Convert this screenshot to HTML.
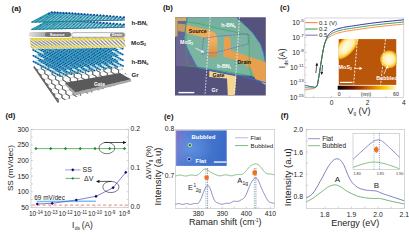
<!DOCTYPE html>
<html><head><meta charset="utf-8"><style>
html,body{margin:0;padding:0;background:#fff;width:409px;height:237px;overflow:hidden}
svg{display:block;font-family:"Liberation Sans",sans-serif}
</style></head><body>
<svg width="409" height="237" viewBox="0 0 409 237" font-family="Liberation Sans, sans-serif"><text x="11.6" y="11.4" font-size="7.8" text-anchor="start" font-weight="bold" fill="#111" >(a)</text>
<text x="163.0" y="10.1" font-size="7.8" text-anchor="start" font-weight="bold" fill="#111" >(b)</text>
<text x="280.0" y="10.1" font-size="7.8" text-anchor="start" font-weight="bold" fill="#111" >(c)</text>
<text x="5.5" y="118.3" font-size="7.8" text-anchor="start" font-weight="bold" fill="#111" >(d)</text>
<text x="164.0" y="118.8" font-size="7.8" text-anchor="start" font-weight="bold" fill="#111" >(e)</text>
<text x="280.7" y="118.0" font-size="7.8" text-anchor="start" font-weight="bold" fill="#111" >(f)</text>
<defs><clipPath id="grc"><rect x="0" y="0" width="19.5" height="12.12435565298214"/></clipPath></defs>
<g transform="matrix(3.7436,-1.0769,1.9795,2.8043,34,68)"><g clip-path="url(#grc)"><path d="M0.00,0.00 L-1.00,0.00 M-1.00,-1.73 L0.00,-1.73 M0.00,1.73 L-1.00,1.73 M-1.00,0.00 L0.00,0.00 M0.00,3.46 L-1.00,3.46 M-1.00,1.73 L0.00,1.73 M0.00,5.20 L-1.00,5.20 M-1.00,3.46 L0.00,3.46 M0.00,6.93 L-1.00,6.93 M-1.00,5.20 L0.00,5.20 M0.00,8.66 L-1.00,8.66 M-1.00,6.93 L0.00,6.93 M0.00,10.39 L-1.00,10.39 M-1.00,8.66 L0.00,8.66 M0.00,12.12 L-1.00,12.12 M-1.00,10.39 L0.00,10.39 M0.00,13.86 L-1.00,13.86 M-1.00,12.12 L0.00,12.12 M0.00,15.59 L-1.00,15.59 M-1.00,13.86 L0.00,13.86 M1.50,-0.87 L0.50,-0.87 M0.50,-2.60 L1.50,-2.60 M1.50,0.87 L0.50,0.87 M0.50,-0.87 L1.50,-0.87 M1.50,2.60 L0.50,2.60 M0.50,0.87 L1.50,0.87 M1.50,4.33 L0.50,4.33 M0.50,2.60 L1.50,2.60 M1.50,6.06 L0.50,6.06 M0.50,4.33 L1.50,4.33 M1.50,7.79 L0.50,7.79 M0.50,6.06 L1.50,6.06 M1.50,9.53 L0.50,9.53 M0.50,7.79 L1.50,7.79 M1.50,11.26 L0.50,11.26 M0.50,9.53 L1.50,9.53 M1.50,12.99 L0.50,12.99 M0.50,11.26 L1.50,11.26 M1.50,14.72 L0.50,14.72 M0.50,12.99 L1.50,12.99 M3.00,0.00 L2.00,0.00 M2.00,-1.73 L3.00,-1.73 M3.00,1.73 L2.00,1.73 M2.00,0.00 L3.00,0.00 M3.00,3.46 L2.00,3.46 M2.00,1.73 L3.00,1.73 M3.00,5.20 L2.00,5.20 M2.00,3.46 L3.00,3.46 M3.00,6.93 L2.00,6.93 M2.00,5.20 L3.00,5.20 M3.00,8.66 L2.00,8.66 M2.00,6.93 L3.00,6.93 M3.00,10.39 L2.00,10.39 M2.00,8.66 L3.00,8.66 M3.00,12.12 L2.00,12.12 M2.00,10.39 L3.00,10.39 M3.00,13.86 L2.00,13.86 M2.00,12.12 L3.00,12.12 M3.00,15.59 L2.00,15.59 M2.00,13.86 L3.00,13.86 M4.50,-0.87 L3.50,-0.87 M3.50,-2.60 L4.50,-2.60 M4.50,0.87 L3.50,0.87 M3.50,-0.87 L4.50,-0.87 M4.50,2.60 L3.50,2.60 M3.50,0.87 L4.50,0.87 M4.50,4.33 L3.50,4.33 M3.50,2.60 L4.50,2.60 M4.50,6.06 L3.50,6.06 M3.50,4.33 L4.50,4.33 M4.50,7.79 L3.50,7.79 M3.50,6.06 L4.50,6.06 M4.50,9.53 L3.50,9.53 M3.50,7.79 L4.50,7.79 M4.50,11.26 L3.50,11.26 M3.50,9.53 L4.50,9.53 M4.50,12.99 L3.50,12.99 M3.50,11.26 L4.50,11.26 M4.50,14.72 L3.50,14.72 M3.50,12.99 L4.50,12.99 M6.00,0.00 L5.00,0.00 M5.00,-1.73 L6.00,-1.73 M6.00,1.73 L5.00,1.73 M5.00,0.00 L6.00,0.00 M6.00,3.46 L5.00,3.46 M5.00,1.73 L6.00,1.73 M6.00,5.20 L5.00,5.20 M5.00,3.46 L6.00,3.46 M6.00,6.93 L5.00,6.93 M5.00,5.20 L6.00,5.20 M6.00,8.66 L5.00,8.66 M5.00,6.93 L6.00,6.93 M6.00,10.39 L5.00,10.39 M5.00,8.66 L6.00,8.66 M6.00,12.12 L5.00,12.12 M5.00,10.39 L6.00,10.39 M6.00,13.86 L5.00,13.86 M5.00,12.12 L6.00,12.12 M6.00,15.59 L5.00,15.59 M5.00,13.86 L6.00,13.86 M7.50,-0.87 L6.50,-0.87 M6.50,-2.60 L7.50,-2.60 M7.50,0.87 L6.50,0.87 M6.50,-0.87 L7.50,-0.87 M7.50,2.60 L6.50,2.60 M6.50,0.87 L7.50,0.87 M7.50,4.33 L6.50,4.33 M6.50,2.60 L7.50,2.60 M7.50,6.06 L6.50,6.06 M6.50,4.33 L7.50,4.33 M7.50,7.79 L6.50,7.79 M6.50,6.06 L7.50,6.06 M7.50,9.53 L6.50,9.53 M6.50,7.79 L7.50,7.79 M7.50,11.26 L6.50,11.26 M6.50,9.53 L7.50,9.53 M7.50,12.99 L6.50,12.99 M6.50,11.26 L7.50,11.26 M7.50,14.72 L6.50,14.72 M6.50,12.99 L7.50,12.99 M9.00,0.00 L8.00,0.00 M8.00,-1.73 L9.00,-1.73 M9.00,1.73 L8.00,1.73 M8.00,0.00 L9.00,0.00 M9.00,3.46 L8.00,3.46 M8.00,1.73 L9.00,1.73 M9.00,5.20 L8.00,5.20 M8.00,3.46 L9.00,3.46 M9.00,6.93 L8.00,6.93 M8.00,5.20 L9.00,5.20 M9.00,8.66 L8.00,8.66 M8.00,6.93 L9.00,6.93 M9.00,10.39 L8.00,10.39 M8.00,8.66 L9.00,8.66 M9.00,12.12 L8.00,12.12 M8.00,10.39 L9.00,10.39 M9.00,13.86 L8.00,13.86 M8.00,12.12 L9.00,12.12 M9.00,15.59 L8.00,15.59 M8.00,13.86 L9.00,13.86 M10.50,-0.87 L9.50,-0.87 M9.50,-2.60 L10.50,-2.60 M10.50,0.87 L9.50,0.87 M9.50,-0.87 L10.50,-0.87 M10.50,2.60 L9.50,2.60 M9.50,0.87 L10.50,0.87 M10.50,4.33 L9.50,4.33 M9.50,2.60 L10.50,2.60 M10.50,6.06 L9.50,6.06 M9.50,4.33 L10.50,4.33 M10.50,7.79 L9.50,7.79 M9.50,6.06 L10.50,6.06 M10.50,9.53 L9.50,9.53 M9.50,7.79 L10.50,7.79 M10.50,11.26 L9.50,11.26 M9.50,9.53 L10.50,9.53 M10.50,12.99 L9.50,12.99 M9.50,11.26 L10.50,11.26 M10.50,14.72 L9.50,14.72 M9.50,12.99 L10.50,12.99 M12.00,0.00 L11.00,0.00 M11.00,-1.73 L12.00,-1.73 M12.00,1.73 L11.00,1.73 M11.00,0.00 L12.00,0.00 M12.00,3.46 L11.00,3.46 M11.00,1.73 L12.00,1.73 M12.00,5.20 L11.00,5.20 M11.00,3.46 L12.00,3.46 M12.00,6.93 L11.00,6.93 M11.00,5.20 L12.00,5.20 M12.00,8.66 L11.00,8.66 M11.00,6.93 L12.00,6.93 M12.00,10.39 L11.00,10.39 M11.00,8.66 L12.00,8.66 M12.00,12.12 L11.00,12.12 M11.00,10.39 L12.00,10.39 M12.00,13.86 L11.00,13.86 M11.00,12.12 L12.00,12.12 M12.00,15.59 L11.00,15.59 M11.00,13.86 L12.00,13.86 M13.50,-0.87 L12.50,-0.87 M12.50,-2.60 L13.50,-2.60 M13.50,0.87 L12.50,0.87 M12.50,-0.87 L13.50,-0.87 M13.50,2.60 L12.50,2.60 M12.50,0.87 L13.50,0.87 M13.50,4.33 L12.50,4.33 M12.50,2.60 L13.50,2.60 M13.50,6.06 L12.50,6.06 M12.50,4.33 L13.50,4.33 M13.50,7.79 L12.50,7.79 M12.50,6.06 L13.50,6.06 M13.50,9.53 L12.50,9.53 M12.50,7.79 L13.50,7.79 M13.50,11.26 L12.50,11.26 M12.50,9.53 L13.50,9.53 M13.50,12.99 L12.50,12.99 M12.50,11.26 L13.50,11.26 M13.50,14.72 L12.50,14.72 M12.50,12.99 L13.50,12.99 M15.00,0.00 L14.00,0.00 M14.00,-1.73 L15.00,-1.73 M15.00,1.73 L14.00,1.73 M14.00,0.00 L15.00,0.00 M15.00,3.46 L14.00,3.46 M14.00,1.73 L15.00,1.73 M15.00,5.20 L14.00,5.20 M14.00,3.46 L15.00,3.46 M15.00,6.93 L14.00,6.93 M14.00,5.20 L15.00,5.20 M15.00,8.66 L14.00,8.66 M14.00,6.93 L15.00,6.93 M15.00,10.39 L14.00,10.39 M14.00,8.66 L15.00,8.66 M15.00,12.12 L14.00,12.12 M14.00,10.39 L15.00,10.39 M15.00,13.86 L14.00,13.86 M14.00,12.12 L15.00,12.12 M15.00,15.59 L14.00,15.59 M14.00,13.86 L15.00,13.86 M16.50,-0.87 L15.50,-0.87 M15.50,-2.60 L16.50,-2.60 M16.50,0.87 L15.50,0.87 M15.50,-0.87 L16.50,-0.87 M16.50,2.60 L15.50,2.60 M15.50,0.87 L16.50,0.87 M16.50,4.33 L15.50,4.33 M15.50,2.60 L16.50,2.60 M16.50,6.06 L15.50,6.06 M15.50,4.33 L16.50,4.33 M16.50,7.79 L15.50,7.79 M15.50,6.06 L16.50,6.06 M16.50,9.53 L15.50,9.53 M15.50,7.79 L16.50,7.79 M16.50,11.26 L15.50,11.26 M15.50,9.53 L16.50,9.53 M16.50,12.99 L15.50,12.99 M15.50,11.26 L16.50,11.26 M16.50,14.72 L15.50,14.72 M15.50,12.99 L16.50,12.99 M18.00,0.00 L17.00,0.00 M17.00,-1.73 L18.00,-1.73 M18.00,1.73 L17.00,1.73 M17.00,0.00 L18.00,0.00 M18.00,3.46 L17.00,3.46 M17.00,1.73 L18.00,1.73 M18.00,5.20 L17.00,5.20 M17.00,3.46 L18.00,3.46 M18.00,6.93 L17.00,6.93 M17.00,5.20 L18.00,5.20 M18.00,8.66 L17.00,8.66 M17.00,6.93 L18.00,6.93 M18.00,10.39 L17.00,10.39 M17.00,8.66 L18.00,8.66 M18.00,12.12 L17.00,12.12 M17.00,10.39 L18.00,10.39 M18.00,13.86 L17.00,13.86 M17.00,12.12 L18.00,12.12 M18.00,15.59 L17.00,15.59 M17.00,13.86 L18.00,13.86 M19.50,-0.87 L18.50,-0.87 M18.50,-2.60 L19.50,-2.60 M19.50,0.87 L18.50,0.87 M18.50,-0.87 L19.50,-0.87 M19.50,2.60 L18.50,2.60 M18.50,0.87 L19.50,0.87 M19.50,4.33 L18.50,4.33 M18.50,2.60 L19.50,2.60 M19.50,6.06 L18.50,6.06 M18.50,4.33 L19.50,4.33 M19.50,7.79 L18.50,7.79 M18.50,6.06 L19.50,6.06 M19.50,9.53 L18.50,9.53 M18.50,7.79 L19.50,7.79 M19.50,11.26 L18.50,11.26 M18.50,9.53 L19.50,9.53 M19.50,12.99 L18.50,12.99 M18.50,11.26 L19.50,11.26 M19.50,14.72 L18.50,14.72 M18.50,12.99 L19.50,12.99 M21.00,0.00 L20.00,0.00 M20.00,-1.73 L21.00,-1.73 M21.00,1.73 L20.00,1.73 M20.00,0.00 L21.00,0.00 M21.00,3.46 L20.00,3.46 M20.00,1.73 L21.00,1.73 M21.00,5.20 L20.00,5.20 M20.00,3.46 L21.00,3.46 M21.00,6.93 L20.00,6.93 M20.00,5.20 L21.00,5.20 M21.00,8.66 L20.00,8.66 M20.00,6.93 L21.00,6.93 M21.00,10.39 L20.00,10.39 M20.00,8.66 L21.00,8.66 M21.00,12.12 L20.00,12.12 M20.00,10.39 L21.00,10.39 M21.00,13.86 L20.00,13.86 M20.00,12.12 L21.00,12.12 M21.00,15.59 L20.00,15.59 M20.00,13.86 L21.00,13.86 M22.50,-0.87 L21.50,-0.87 M21.50,-2.60 L22.50,-2.60 M22.50,0.87 L21.50,0.87 M21.50,-0.87 L22.50,-0.87 M22.50,2.60 L21.50,2.60 M21.50,0.87 L22.50,0.87 M22.50,4.33 L21.50,4.33 M21.50,2.60 L22.50,2.60 M22.50,6.06 L21.50,6.06 M21.50,4.33 L22.50,4.33 M22.50,7.79 L21.50,7.79 M21.50,6.06 L22.50,6.06 M22.50,9.53 L21.50,9.53 M21.50,7.79 L22.50,7.79 M22.50,11.26 L21.50,11.26 M21.50,9.53 L22.50,9.53 M22.50,12.99 L21.50,12.99 M21.50,11.26 L22.50,11.26 M22.50,14.72 L21.50,14.72 M21.50,12.99 L22.50,12.99 M24.00,0.00 L23.00,0.00 M23.00,-1.73 L24.00,-1.73 M24.00,1.73 L23.00,1.73 M23.00,0.00 L24.00,0.00 M24.00,3.46 L23.00,3.46 M23.00,1.73 L24.00,1.73 M24.00,5.20 L23.00,5.20 M23.00,3.46 L24.00,3.46 M24.00,6.93 L23.00,6.93 M23.00,5.20 L24.00,5.20 M24.00,8.66 L23.00,8.66 M23.00,6.93 L24.00,6.93 M24.00,10.39 L23.00,10.39 M23.00,8.66 L24.00,8.66 M24.00,12.12 L23.00,12.12 M23.00,10.39 L24.00,10.39 M24.00,13.86 L23.00,13.86 M23.00,12.12 L24.00,12.12 M24.00,15.59 L23.00,15.59 M23.00,13.86 L24.00,13.86" fill="none" stroke="#c4c4c4" stroke-width="0.4" vector-effect="non-scaling-stroke"/><path d="M0.00,-1.73 L0.50,-0.87 L0.00,0.00 M-1.00,0.00 L-1.50,-0.87 L-1.00,-1.73 M0.00,0.00 L0.50,0.87 L0.00,1.73 M-1.00,1.73 L-1.50,0.87 L-1.00,0.00 M0.00,1.73 L0.50,2.60 L0.00,3.46 M-1.00,3.46 L-1.50,2.60 L-1.00,1.73 M0.00,3.46 L0.50,4.33 L0.00,5.20 M-1.00,5.20 L-1.50,4.33 L-1.00,3.46 M0.00,5.20 L0.50,6.06 L0.00,6.93 M-1.00,6.93 L-1.50,6.06 L-1.00,5.20 M0.00,6.93 L0.50,7.79 L0.00,8.66 M-1.00,8.66 L-1.50,7.79 L-1.00,6.93 M0.00,8.66 L0.50,9.53 L0.00,10.39 M-1.00,10.39 L-1.50,9.53 L-1.00,8.66 M0.00,10.39 L0.50,11.26 L0.00,12.12 M-1.00,12.12 L-1.50,11.26 L-1.00,10.39 M0.00,12.12 L0.50,12.99 L0.00,13.86 M-1.00,13.86 L-1.50,12.99 L-1.00,12.12 M0.00,13.86 L0.50,14.72 L0.00,15.59 M-1.00,15.59 L-1.50,14.72 L-1.00,13.86 M1.50,-2.60 L2.00,-1.73 L1.50,-0.87 M0.50,-0.87 L0.00,-1.73 L0.50,-2.60 M1.50,-0.87 L2.00,0.00 L1.50,0.87 M0.50,0.87 L0.00,0.00 L0.50,-0.87 M1.50,0.87 L2.00,1.73 L1.50,2.60 M0.50,2.60 L0.00,1.73 L0.50,0.87 M1.50,2.60 L2.00,3.46 L1.50,4.33 M0.50,4.33 L0.00,3.46 L0.50,2.60 M1.50,4.33 L2.00,5.20 L1.50,6.06 M0.50,6.06 L0.00,5.20 L0.50,4.33 M1.50,6.06 L2.00,6.93 L1.50,7.79 M0.50,7.79 L0.00,6.93 L0.50,6.06 M1.50,7.79 L2.00,8.66 L1.50,9.53 M0.50,9.53 L0.00,8.66 L0.50,7.79 M1.50,9.53 L2.00,10.39 L1.50,11.26 M0.50,11.26 L0.00,10.39 L0.50,9.53 M1.50,11.26 L2.00,12.12 L1.50,12.99 M0.50,12.99 L0.00,12.12 L0.50,11.26 M1.50,12.99 L2.00,13.86 L1.50,14.72 M0.50,14.72 L0.00,13.86 L0.50,12.99 M3.00,-1.73 L3.50,-0.87 L3.00,0.00 M2.00,0.00 L1.50,-0.87 L2.00,-1.73 M3.00,0.00 L3.50,0.87 L3.00,1.73 M2.00,1.73 L1.50,0.87 L2.00,0.00 M3.00,1.73 L3.50,2.60 L3.00,3.46 M2.00,3.46 L1.50,2.60 L2.00,1.73 M3.00,3.46 L3.50,4.33 L3.00,5.20 M2.00,5.20 L1.50,4.33 L2.00,3.46 M3.00,5.20 L3.50,6.06 L3.00,6.93 M2.00,6.93 L1.50,6.06 L2.00,5.20 M3.00,6.93 L3.50,7.79 L3.00,8.66 M2.00,8.66 L1.50,7.79 L2.00,6.93 M3.00,8.66 L3.50,9.53 L3.00,10.39 M2.00,10.39 L1.50,9.53 L2.00,8.66 M3.00,10.39 L3.50,11.26 L3.00,12.12 M2.00,12.12 L1.50,11.26 L2.00,10.39 M3.00,12.12 L3.50,12.99 L3.00,13.86 M2.00,13.86 L1.50,12.99 L2.00,12.12 M3.00,13.86 L3.50,14.72 L3.00,15.59 M2.00,15.59 L1.50,14.72 L2.00,13.86 M4.50,-2.60 L5.00,-1.73 L4.50,-0.87 M3.50,-0.87 L3.00,-1.73 L3.50,-2.60 M4.50,-0.87 L5.00,0.00 L4.50,0.87 M3.50,0.87 L3.00,0.00 L3.50,-0.87 M4.50,0.87 L5.00,1.73 L4.50,2.60 M3.50,2.60 L3.00,1.73 L3.50,0.87 M4.50,2.60 L5.00,3.46 L4.50,4.33 M3.50,4.33 L3.00,3.46 L3.50,2.60 M4.50,4.33 L5.00,5.20 L4.50,6.06 M3.50,6.06 L3.00,5.20 L3.50,4.33 M4.50,6.06 L5.00,6.93 L4.50,7.79 M3.50,7.79 L3.00,6.93 L3.50,6.06 M4.50,7.79 L5.00,8.66 L4.50,9.53 M3.50,9.53 L3.00,8.66 L3.50,7.79 M4.50,9.53 L5.00,10.39 L4.50,11.26 M3.50,11.26 L3.00,10.39 L3.50,9.53 M4.50,11.26 L5.00,12.12 L4.50,12.99 M3.50,12.99 L3.00,12.12 L3.50,11.26 M4.50,12.99 L5.00,13.86 L4.50,14.72 M3.50,14.72 L3.00,13.86 L3.50,12.99 M6.00,-1.73 L6.50,-0.87 L6.00,0.00 M5.00,0.00 L4.50,-0.87 L5.00,-1.73 M6.00,0.00 L6.50,0.87 L6.00,1.73 M5.00,1.73 L4.50,0.87 L5.00,0.00 M6.00,1.73 L6.50,2.60 L6.00,3.46 M5.00,3.46 L4.50,2.60 L5.00,1.73 M6.00,3.46 L6.50,4.33 L6.00,5.20 M5.00,5.20 L4.50,4.33 L5.00,3.46 M6.00,5.20 L6.50,6.06 L6.00,6.93 M5.00,6.93 L4.50,6.06 L5.00,5.20 M6.00,6.93 L6.50,7.79 L6.00,8.66 M5.00,8.66 L4.50,7.79 L5.00,6.93 M6.00,8.66 L6.50,9.53 L6.00,10.39 M5.00,10.39 L4.50,9.53 L5.00,8.66 M6.00,10.39 L6.50,11.26 L6.00,12.12 M5.00,12.12 L4.50,11.26 L5.00,10.39 M6.00,12.12 L6.50,12.99 L6.00,13.86 M5.00,13.86 L4.50,12.99 L5.00,12.12 M6.00,13.86 L6.50,14.72 L6.00,15.59 M5.00,15.59 L4.50,14.72 L5.00,13.86 M7.50,-2.60 L8.00,-1.73 L7.50,-0.87 M6.50,-0.87 L6.00,-1.73 L6.50,-2.60 M7.50,-0.87 L8.00,0.00 L7.50,0.87 M6.50,0.87 L6.00,0.00 L6.50,-0.87 M7.50,0.87 L8.00,1.73 L7.50,2.60 M6.50,2.60 L6.00,1.73 L6.50,0.87 M7.50,2.60 L8.00,3.46 L7.50,4.33 M6.50,4.33 L6.00,3.46 L6.50,2.60 M7.50,4.33 L8.00,5.20 L7.50,6.06 M6.50,6.06 L6.00,5.20 L6.50,4.33 M7.50,6.06 L8.00,6.93 L7.50,7.79 M6.50,7.79 L6.00,6.93 L6.50,6.06 M7.50,7.79 L8.00,8.66 L7.50,9.53 M6.50,9.53 L6.00,8.66 L6.50,7.79 M7.50,9.53 L8.00,10.39 L7.50,11.26 M6.50,11.26 L6.00,10.39 L6.50,9.53 M7.50,11.26 L8.00,12.12 L7.50,12.99 M6.50,12.99 L6.00,12.12 L6.50,11.26 M7.50,12.99 L8.00,13.86 L7.50,14.72 M6.50,14.72 L6.00,13.86 L6.50,12.99 M9.00,-1.73 L9.50,-0.87 L9.00,0.00 M8.00,0.00 L7.50,-0.87 L8.00,-1.73 M9.00,0.00 L9.50,0.87 L9.00,1.73 M8.00,1.73 L7.50,0.87 L8.00,0.00 M9.00,1.73 L9.50,2.60 L9.00,3.46 M8.00,3.46 L7.50,2.60 L8.00,1.73 M9.00,3.46 L9.50,4.33 L9.00,5.20 M8.00,5.20 L7.50,4.33 L8.00,3.46 M9.00,5.20 L9.50,6.06 L9.00,6.93 M8.00,6.93 L7.50,6.06 L8.00,5.20 M9.00,6.93 L9.50,7.79 L9.00,8.66 M8.00,8.66 L7.50,7.79 L8.00,6.93 M9.00,8.66 L9.50,9.53 L9.00,10.39 M8.00,10.39 L7.50,9.53 L8.00,8.66 M9.00,10.39 L9.50,11.26 L9.00,12.12 M8.00,12.12 L7.50,11.26 L8.00,10.39 M9.00,12.12 L9.50,12.99 L9.00,13.86 M8.00,13.86 L7.50,12.99 L8.00,12.12 M9.00,13.86 L9.50,14.72 L9.00,15.59 M8.00,15.59 L7.50,14.72 L8.00,13.86 M10.50,-2.60 L11.00,-1.73 L10.50,-0.87 M9.50,-0.87 L9.00,-1.73 L9.50,-2.60 M10.50,-0.87 L11.00,0.00 L10.50,0.87 M9.50,0.87 L9.00,0.00 L9.50,-0.87 M10.50,0.87 L11.00,1.73 L10.50,2.60 M9.50,2.60 L9.00,1.73 L9.50,0.87 M10.50,2.60 L11.00,3.46 L10.50,4.33 M9.50,4.33 L9.00,3.46 L9.50,2.60 M10.50,4.33 L11.00,5.20 L10.50,6.06 M9.50,6.06 L9.00,5.20 L9.50,4.33 M10.50,6.06 L11.00,6.93 L10.50,7.79 M9.50,7.79 L9.00,6.93 L9.50,6.06 M10.50,7.79 L11.00,8.66 L10.50,9.53 M9.50,9.53 L9.00,8.66 L9.50,7.79 M10.50,9.53 L11.00,10.39 L10.50,11.26 M9.50,11.26 L9.00,10.39 L9.50,9.53 M10.50,11.26 L11.00,12.12 L10.50,12.99 M9.50,12.99 L9.00,12.12 L9.50,11.26 M10.50,12.99 L11.00,13.86 L10.50,14.72 M9.50,14.72 L9.00,13.86 L9.50,12.99 M12.00,-1.73 L12.50,-0.87 L12.00,0.00 M11.00,0.00 L10.50,-0.87 L11.00,-1.73 M12.00,0.00 L12.50,0.87 L12.00,1.73 M11.00,1.73 L10.50,0.87 L11.00,0.00 M12.00,1.73 L12.50,2.60 L12.00,3.46 M11.00,3.46 L10.50,2.60 L11.00,1.73 M12.00,3.46 L12.50,4.33 L12.00,5.20 M11.00,5.20 L10.50,4.33 L11.00,3.46 M12.00,5.20 L12.50,6.06 L12.00,6.93 M11.00,6.93 L10.50,6.06 L11.00,5.20 M12.00,6.93 L12.50,7.79 L12.00,8.66 M11.00,8.66 L10.50,7.79 L11.00,6.93 M12.00,8.66 L12.50,9.53 L12.00,10.39 M11.00,10.39 L10.50,9.53 L11.00,8.66 M12.00,10.39 L12.50,11.26 L12.00,12.12 M11.00,12.12 L10.50,11.26 L11.00,10.39 M12.00,12.12 L12.50,12.99 L12.00,13.86 M11.00,13.86 L10.50,12.99 L11.00,12.12 M12.00,13.86 L12.50,14.72 L12.00,15.59 M11.00,15.59 L10.50,14.72 L11.00,13.86 M13.50,-2.60 L14.00,-1.73 L13.50,-0.87 M12.50,-0.87 L12.00,-1.73 L12.50,-2.60 M13.50,-0.87 L14.00,0.00 L13.50,0.87 M12.50,0.87 L12.00,0.00 L12.50,-0.87 M13.50,0.87 L14.00,1.73 L13.50,2.60 M12.50,2.60 L12.00,1.73 L12.50,0.87 M13.50,2.60 L14.00,3.46 L13.50,4.33 M12.50,4.33 L12.00,3.46 L12.50,2.60 M13.50,4.33 L14.00,5.20 L13.50,6.06 M12.50,6.06 L12.00,5.20 L12.50,4.33 M13.50,6.06 L14.00,6.93 L13.50,7.79 M12.50,7.79 L12.00,6.93 L12.50,6.06 M13.50,7.79 L14.00,8.66 L13.50,9.53 M12.50,9.53 L12.00,8.66 L12.50,7.79 M13.50,9.53 L14.00,10.39 L13.50,11.26 M12.50,11.26 L12.00,10.39 L12.50,9.53 M13.50,11.26 L14.00,12.12 L13.50,12.99 M12.50,12.99 L12.00,12.12 L12.50,11.26 M13.50,12.99 L14.00,13.86 L13.50,14.72 M12.50,14.72 L12.00,13.86 L12.50,12.99 M15.00,-1.73 L15.50,-0.87 L15.00,0.00 M14.00,0.00 L13.50,-0.87 L14.00,-1.73 M15.00,0.00 L15.50,0.87 L15.00,1.73 M14.00,1.73 L13.50,0.87 L14.00,0.00 M15.00,1.73 L15.50,2.60 L15.00,3.46 M14.00,3.46 L13.50,2.60 L14.00,1.73 M15.00,3.46 L15.50,4.33 L15.00,5.20 M14.00,5.20 L13.50,4.33 L14.00,3.46 M15.00,5.20 L15.50,6.06 L15.00,6.93 M14.00,6.93 L13.50,6.06 L14.00,5.20 M15.00,6.93 L15.50,7.79 L15.00,8.66 M14.00,8.66 L13.50,7.79 L14.00,6.93 M15.00,8.66 L15.50,9.53 L15.00,10.39 M14.00,10.39 L13.50,9.53 L14.00,8.66 M15.00,10.39 L15.50,11.26 L15.00,12.12 M14.00,12.12 L13.50,11.26 L14.00,10.39 M15.00,12.12 L15.50,12.99 L15.00,13.86 M14.00,13.86 L13.50,12.99 L14.00,12.12 M15.00,13.86 L15.50,14.72 L15.00,15.59 M14.00,15.59 L13.50,14.72 L14.00,13.86 M16.50,-2.60 L17.00,-1.73 L16.50,-0.87 M15.50,-0.87 L15.00,-1.73 L15.50,-2.60 M16.50,-0.87 L17.00,0.00 L16.50,0.87 M15.50,0.87 L15.00,0.00 L15.50,-0.87 M16.50,0.87 L17.00,1.73 L16.50,2.60 M15.50,2.60 L15.00,1.73 L15.50,0.87 M16.50,2.60 L17.00,3.46 L16.50,4.33 M15.50,4.33 L15.00,3.46 L15.50,2.60 M16.50,4.33 L17.00,5.20 L16.50,6.06 M15.50,6.06 L15.00,5.20 L15.50,4.33 M16.50,6.06 L17.00,6.93 L16.50,7.79 M15.50,7.79 L15.00,6.93 L15.50,6.06 M16.50,7.79 L17.00,8.66 L16.50,9.53 M15.50,9.53 L15.00,8.66 L15.50,7.79 M16.50,9.53 L17.00,10.39 L16.50,11.26 M15.50,11.26 L15.00,10.39 L15.50,9.53 M16.50,11.26 L17.00,12.12 L16.50,12.99 M15.50,12.99 L15.00,12.12 L15.50,11.26 M16.50,12.99 L17.00,13.86 L16.50,14.72 M15.50,14.72 L15.00,13.86 L15.50,12.99 M18.00,-1.73 L18.50,-0.87 L18.00,0.00 M17.00,0.00 L16.50,-0.87 L17.00,-1.73 M18.00,0.00 L18.50,0.87 L18.00,1.73 M17.00,1.73 L16.50,0.87 L17.00,0.00 M18.00,1.73 L18.50,2.60 L18.00,3.46 M17.00,3.46 L16.50,2.60 L17.00,1.73 M18.00,3.46 L18.50,4.33 L18.00,5.20 M17.00,5.20 L16.50,4.33 L17.00,3.46 M18.00,5.20 L18.50,6.06 L18.00,6.93 M17.00,6.93 L16.50,6.06 L17.00,5.20 M18.00,6.93 L18.50,7.79 L18.00,8.66 M17.00,8.66 L16.50,7.79 L17.00,6.93 M18.00,8.66 L18.50,9.53 L18.00,10.39 M17.00,10.39 L16.50,9.53 L17.00,8.66 M18.00,10.39 L18.50,11.26 L18.00,12.12 M17.00,12.12 L16.50,11.26 L17.00,10.39 M18.00,12.12 L18.50,12.99 L18.00,13.86 M17.00,13.86 L16.50,12.99 L17.00,12.12 M18.00,13.86 L18.50,14.72 L18.00,15.59 M17.00,15.59 L16.50,14.72 L17.00,13.86 M19.50,-2.60 L20.00,-1.73 L19.50,-0.87 M18.50,-0.87 L18.00,-1.73 L18.50,-2.60 M19.50,-0.87 L20.00,0.00 L19.50,0.87 M18.50,0.87 L18.00,0.00 L18.50,-0.87 M19.50,0.87 L20.00,1.73 L19.50,2.60 M18.50,2.60 L18.00,1.73 L18.50,0.87 M19.50,2.60 L20.00,3.46 L19.50,4.33 M18.50,4.33 L18.00,3.46 L18.50,2.60 M19.50,4.33 L20.00,5.20 L19.50,6.06 M18.50,6.06 L18.00,5.20 L18.50,4.33 M19.50,6.06 L20.00,6.93 L19.50,7.79 M18.50,7.79 L18.00,6.93 L18.50,6.06 M19.50,7.79 L20.00,8.66 L19.50,9.53 M18.50,9.53 L18.00,8.66 L18.50,7.79 M19.50,9.53 L20.00,10.39 L19.50,11.26 M18.50,11.26 L18.00,10.39 L18.50,9.53 M19.50,11.26 L20.00,12.12 L19.50,12.99 M18.50,12.99 L18.00,12.12 L18.50,11.26 M19.50,12.99 L20.00,13.86 L19.50,14.72 M18.50,14.72 L18.00,13.86 L18.50,12.99 M21.00,-1.73 L21.50,-0.87 L21.00,0.00 M20.00,0.00 L19.50,-0.87 L20.00,-1.73 M21.00,0.00 L21.50,0.87 L21.00,1.73 M20.00,1.73 L19.50,0.87 L20.00,0.00 M21.00,1.73 L21.50,2.60 L21.00,3.46 M20.00,3.46 L19.50,2.60 L20.00,1.73 M21.00,3.46 L21.50,4.33 L21.00,5.20 M20.00,5.20 L19.50,4.33 L20.00,3.46 M21.00,5.20 L21.50,6.06 L21.00,6.93 M20.00,6.93 L19.50,6.06 L20.00,5.20 M21.00,6.93 L21.50,7.79 L21.00,8.66 M20.00,8.66 L19.50,7.79 L20.00,6.93 M21.00,8.66 L21.50,9.53 L21.00,10.39 M20.00,10.39 L19.50,9.53 L20.00,8.66 M21.00,10.39 L21.50,11.26 L21.00,12.12 M20.00,12.12 L19.50,11.26 L20.00,10.39 M21.00,12.12 L21.50,12.99 L21.00,13.86 M20.00,13.86 L19.50,12.99 L20.00,12.12 M21.00,13.86 L21.50,14.72 L21.00,15.59 M20.00,15.59 L19.50,14.72 L20.00,13.86 M22.50,-2.60 L23.00,-1.73 L22.50,-0.87 M21.50,-0.87 L21.00,-1.73 L21.50,-2.60 M22.50,-0.87 L23.00,0.00 L22.50,0.87 M21.50,0.87 L21.00,0.00 L21.50,-0.87 M22.50,0.87 L23.00,1.73 L22.50,2.60 M21.50,2.60 L21.00,1.73 L21.50,0.87 M22.50,2.60 L23.00,3.46 L22.50,4.33 M21.50,4.33 L21.00,3.46 L21.50,2.60 M22.50,4.33 L23.00,5.20 L22.50,6.06 M21.50,6.06 L21.00,5.20 L21.50,4.33 M22.50,6.06 L23.00,6.93 L22.50,7.79 M21.50,7.79 L21.00,6.93 L21.50,6.06 M22.50,7.79 L23.00,8.66 L22.50,9.53 M21.50,9.53 L21.00,8.66 L21.50,7.79 M22.50,9.53 L23.00,10.39 L22.50,11.26 M21.50,11.26 L21.00,10.39 L21.50,9.53 M22.50,11.26 L23.00,12.12 L22.50,12.99 M21.50,12.99 L21.00,12.12 L21.50,11.26 M22.50,12.99 L23.00,13.86 L22.50,14.72 M21.50,14.72 L21.00,13.86 L21.50,12.99 M24.00,-1.73 L24.50,-0.87 L24.00,0.00 M23.00,0.00 L22.50,-0.87 L23.00,-1.73 M24.00,0.00 L24.50,0.87 L24.00,1.73 M23.00,1.73 L22.50,0.87 L23.00,0.00 M24.00,1.73 L24.50,2.60 L24.00,3.46 M23.00,3.46 L22.50,2.60 L23.00,1.73 M24.00,3.46 L24.50,4.33 L24.00,5.20 M23.00,5.20 L22.50,4.33 L23.00,3.46 M24.00,5.20 L24.50,6.06 L24.00,6.93 M23.00,6.93 L22.50,6.06 L23.00,5.20 M24.00,6.93 L24.50,7.79 L24.00,8.66 M23.00,8.66 L22.50,7.79 L23.00,6.93 M24.00,8.66 L24.50,9.53 L24.00,10.39 M23.00,10.39 L22.50,9.53 L23.00,8.66 M24.00,10.39 L24.50,11.26 L24.00,12.12 M23.00,12.12 L22.50,11.26 L23.00,10.39 M24.00,12.12 L24.50,12.99 L24.00,13.86 M23.00,13.86 L22.50,12.99 L23.00,12.12 M24.00,13.86 L24.50,14.72 L24.00,15.59 M23.00,15.59 L22.50,14.72 L23.00,13.86" fill="none" stroke="#606060" stroke-width="0.8" vector-effect="non-scaling-stroke"/></g></g>
<polyline points="33.8,66.5 58.5,102.5" stroke="#666" stroke-width="1.6" fill="none"/>
<polygon points="65.1,82.8 64.8,84.3 75.2,95.4 131.2,81.6 131,79.3 75.2,92.3" fill="#a9a9a9"/>
<polygon points="65.1,82.8 119.6,73.0 131,79.3 75.2,92.3" fill="#5a5a5a"/>
<text x="99.5" y="85.5" font-size="5" text-anchor="middle" font-weight="bold" fill="#fff" >Gate</text>
<path d="M33.40,61.50 L96.40,51.50 M35.82,62.82 L98.82,52.82 M38.24,64.14 L101.24,54.14 M40.65,65.45 L103.65,55.45 M43.07,66.77 L106.07,56.77 M45.49,68.09 L108.49,58.09 M47.91,69.41 L110.91,59.41 M50.33,70.73 L113.33,60.73 M52.75,72.05 L115.75,62.05 M55.16,73.36 L118.16,63.36 M57.58,74.68 L120.58,64.68 M60.00,76.00 L123.00,66.00" fill="none" stroke="#3aa4b8" stroke-width="0.5" stroke-linecap="round"/>
<path d="M33.40,61.50 L60.00,76.00 M39.13,60.59 L65.73,75.09 M44.85,59.68 L71.45,74.18 M50.58,58.77 L77.18,73.27 M56.31,57.86 L82.91,72.36 M62.04,56.95 L88.64,71.45 M67.76,56.05 L94.36,70.55 M73.49,55.14 L100.09,69.64 M79.22,54.23 L105.82,68.73 M84.95,53.32 L111.55,67.82 M90.67,52.41 L117.27,66.91 M96.40,51.50 L123.00,66.00" fill="none" stroke="#36a6ba" stroke-width="1.6" stroke-linecap="round"/>
<path d="M32.68,61.50 a0.72,0.72 0 1,0 1.44,0 a0.72,0.72 0 1,0 -1.44,0 M38.41,60.59 a0.72,0.72 0 1,0 1.44,0 a0.72,0.72 0 1,0 -1.44,0 M44.13,59.68 a0.72,0.72 0 1,0 1.44,0 a0.72,0.72 0 1,0 -1.44,0 M49.86,58.77 a0.72,0.72 0 1,0 1.44,0 a0.72,0.72 0 1,0 -1.44,0 M55.59,57.86 a0.72,0.72 0 1,0 1.44,0 a0.72,0.72 0 1,0 -1.44,0 M61.32,56.95 a0.72,0.72 0 1,0 1.44,0 a0.72,0.72 0 1,0 -1.44,0 M67.04,56.05 a0.72,0.72 0 1,0 1.44,0 a0.72,0.72 0 1,0 -1.44,0 M72.77,55.14 a0.72,0.72 0 1,0 1.44,0 a0.72,0.72 0 1,0 -1.44,0 M78.50,54.23 a0.72,0.72 0 1,0 1.44,0 a0.72,0.72 0 1,0 -1.44,0 M84.23,53.32 a0.72,0.72 0 1,0 1.44,0 a0.72,0.72 0 1,0 -1.44,0 M89.95,52.41 a0.72,0.72 0 1,0 1.44,0 a0.72,0.72 0 1,0 -1.44,0 M95.68,51.50 a0.72,0.72 0 1,0 1.44,0 a0.72,0.72 0 1,0 -1.44,0 M35.10,62.82 a0.72,0.72 0 1,0 1.44,0 a0.72,0.72 0 1,0 -1.44,0 M40.83,61.91 a0.72,0.72 0 1,0 1.44,0 a0.72,0.72 0 1,0 -1.44,0 M46.55,61.00 a0.72,0.72 0 1,0 1.44,0 a0.72,0.72 0 1,0 -1.44,0 M52.28,60.09 a0.72,0.72 0 1,0 1.44,0 a0.72,0.72 0 1,0 -1.44,0 M58.01,59.18 a0.72,0.72 0 1,0 1.44,0 a0.72,0.72 0 1,0 -1.44,0 M63.73,58.27 a0.72,0.72 0 1,0 1.44,0 a0.72,0.72 0 1,0 -1.44,0 M69.46,57.36 a0.72,0.72 0 1,0 1.44,0 a0.72,0.72 0 1,0 -1.44,0 M75.19,56.45 a0.72,0.72 0 1,0 1.44,0 a0.72,0.72 0 1,0 -1.44,0 M80.92,55.55 a0.72,0.72 0 1,0 1.44,0 a0.72,0.72 0 1,0 -1.44,0 M86.64,54.64 a0.72,0.72 0 1,0 1.44,0 a0.72,0.72 0 1,0 -1.44,0 M92.37,53.73 a0.72,0.72 0 1,0 1.44,0 a0.72,0.72 0 1,0 -1.44,0 M98.10,52.82 a0.72,0.72 0 1,0 1.44,0 a0.72,0.72 0 1,0 -1.44,0 M37.52,64.14 a0.72,0.72 0 1,0 1.44,0 a0.72,0.72 0 1,0 -1.44,0 M43.24,63.23 a0.72,0.72 0 1,0 1.44,0 a0.72,0.72 0 1,0 -1.44,0 M48.97,62.32 a0.72,0.72 0 1,0 1.44,0 a0.72,0.72 0 1,0 -1.44,0 M54.70,61.41 a0.72,0.72 0 1,0 1.44,0 a0.72,0.72 0 1,0 -1.44,0 M60.43,60.50 a0.72,0.72 0 1,0 1.44,0 a0.72,0.72 0 1,0 -1.44,0 M66.15,59.59 a0.72,0.72 0 1,0 1.44,0 a0.72,0.72 0 1,0 -1.44,0 M71.88,58.68 a0.72,0.72 0 1,0 1.44,0 a0.72,0.72 0 1,0 -1.44,0 M77.61,57.77 a0.72,0.72 0 1,0 1.44,0 a0.72,0.72 0 1,0 -1.44,0 M83.33,56.86 a0.72,0.72 0 1,0 1.44,0 a0.72,0.72 0 1,0 -1.44,0 M89.06,55.95 a0.72,0.72 0 1,0 1.44,0 a0.72,0.72 0 1,0 -1.44,0 M94.79,55.05 a0.72,0.72 0 1,0 1.44,0 a0.72,0.72 0 1,0 -1.44,0 M100.52,54.14 a0.72,0.72 0 1,0 1.44,0 a0.72,0.72 0 1,0 -1.44,0 M39.93,65.45 a0.72,0.72 0 1,0 1.44,0 a0.72,0.72 0 1,0 -1.44,0 M45.66,64.55 a0.72,0.72 0 1,0 1.44,0 a0.72,0.72 0 1,0 -1.44,0 M51.39,63.64 a0.72,0.72 0 1,0 1.44,0 a0.72,0.72 0 1,0 -1.44,0 M57.12,62.73 a0.72,0.72 0 1,0 1.44,0 a0.72,0.72 0 1,0 -1.44,0 M62.84,61.82 a0.72,0.72 0 1,0 1.44,0 a0.72,0.72 0 1,0 -1.44,0 M68.57,60.91 a0.72,0.72 0 1,0 1.44,0 a0.72,0.72 0 1,0 -1.44,0 M74.30,60.00 a0.72,0.72 0 1,0 1.44,0 a0.72,0.72 0 1,0 -1.44,0 M80.03,59.09 a0.72,0.72 0 1,0 1.44,0 a0.72,0.72 0 1,0 -1.44,0 M85.75,58.18 a0.72,0.72 0 1,0 1.44,0 a0.72,0.72 0 1,0 -1.44,0 M91.48,57.27 a0.72,0.72 0 1,0 1.44,0 a0.72,0.72 0 1,0 -1.44,0 M97.21,56.36 a0.72,0.72 0 1,0 1.44,0 a0.72,0.72 0 1,0 -1.44,0 M102.93,55.45 a0.72,0.72 0 1,0 1.44,0 a0.72,0.72 0 1,0 -1.44,0 M42.35,66.77 a0.72,0.72 0 1,0 1.44,0 a0.72,0.72 0 1,0 -1.44,0 M48.08,65.86 a0.72,0.72 0 1,0 1.44,0 a0.72,0.72 0 1,0 -1.44,0 M53.81,64.95 a0.72,0.72 0 1,0 1.44,0 a0.72,0.72 0 1,0 -1.44,0 M59.53,64.05 a0.72,0.72 0 1,0 1.44,0 a0.72,0.72 0 1,0 -1.44,0 M65.26,63.14 a0.72,0.72 0 1,0 1.44,0 a0.72,0.72 0 1,0 -1.44,0 M70.99,62.23 a0.72,0.72 0 1,0 1.44,0 a0.72,0.72 0 1,0 -1.44,0 M76.72,61.32 a0.72,0.72 0 1,0 1.44,0 a0.72,0.72 0 1,0 -1.44,0 M82.44,60.41 a0.72,0.72 0 1,0 1.44,0 a0.72,0.72 0 1,0 -1.44,0 M88.17,59.50 a0.72,0.72 0 1,0 1.44,0 a0.72,0.72 0 1,0 -1.44,0 M93.90,58.59 a0.72,0.72 0 1,0 1.44,0 a0.72,0.72 0 1,0 -1.44,0 M99.63,57.68 a0.72,0.72 0 1,0 1.44,0 a0.72,0.72 0 1,0 -1.44,0 M105.35,56.77 a0.72,0.72 0 1,0 1.44,0 a0.72,0.72 0 1,0 -1.44,0 M44.77,68.09 a0.72,0.72 0 1,0 1.44,0 a0.72,0.72 0 1,0 -1.44,0 M50.50,67.18 a0.72,0.72 0 1,0 1.44,0 a0.72,0.72 0 1,0 -1.44,0 M56.23,66.27 a0.72,0.72 0 1,0 1.44,0 a0.72,0.72 0 1,0 -1.44,0 M61.95,65.36 a0.72,0.72 0 1,0 1.44,0 a0.72,0.72 0 1,0 -1.44,0 M67.68,64.45 a0.72,0.72 0 1,0 1.44,0 a0.72,0.72 0 1,0 -1.44,0 M73.41,63.55 a0.72,0.72 0 1,0 1.44,0 a0.72,0.72 0 1,0 -1.44,0 M79.13,62.64 a0.72,0.72 0 1,0 1.44,0 a0.72,0.72 0 1,0 -1.44,0 M84.86,61.73 a0.72,0.72 0 1,0 1.44,0 a0.72,0.72 0 1,0 -1.44,0 M90.59,60.82 a0.72,0.72 0 1,0 1.44,0 a0.72,0.72 0 1,0 -1.44,0 M96.32,59.91 a0.72,0.72 0 1,0 1.44,0 a0.72,0.72 0 1,0 -1.44,0 M102.04,59.00 a0.72,0.72 0 1,0 1.44,0 a0.72,0.72 0 1,0 -1.44,0 M107.77,58.09 a0.72,0.72 0 1,0 1.44,0 a0.72,0.72 0 1,0 -1.44,0 M47.19,69.41 a0.72,0.72 0 1,0 1.44,0 a0.72,0.72 0 1,0 -1.44,0 M52.92,68.50 a0.72,0.72 0 1,0 1.44,0 a0.72,0.72 0 1,0 -1.44,0 M58.64,67.59 a0.72,0.72 0 1,0 1.44,0 a0.72,0.72 0 1,0 -1.44,0 M64.37,66.68 a0.72,0.72 0 1,0 1.44,0 a0.72,0.72 0 1,0 -1.44,0 M70.10,65.77 a0.72,0.72 0 1,0 1.44,0 a0.72,0.72 0 1,0 -1.44,0 M75.83,64.86 a0.72,0.72 0 1,0 1.44,0 a0.72,0.72 0 1,0 -1.44,0 M81.55,63.95 a0.72,0.72 0 1,0 1.44,0 a0.72,0.72 0 1,0 -1.44,0 M87.28,63.05 a0.72,0.72 0 1,0 1.44,0 a0.72,0.72 0 1,0 -1.44,0 M93.01,62.14 a0.72,0.72 0 1,0 1.44,0 a0.72,0.72 0 1,0 -1.44,0 M98.73,61.23 a0.72,0.72 0 1,0 1.44,0 a0.72,0.72 0 1,0 -1.44,0 M104.46,60.32 a0.72,0.72 0 1,0 1.44,0 a0.72,0.72 0 1,0 -1.44,0 M110.19,59.41 a0.72,0.72 0 1,0 1.44,0 a0.72,0.72 0 1,0 -1.44,0 M49.61,70.73 a0.72,0.72 0 1,0 1.44,0 a0.72,0.72 0 1,0 -1.44,0 M55.33,69.82 a0.72,0.72 0 1,0 1.44,0 a0.72,0.72 0 1,0 -1.44,0 M61.06,68.91 a0.72,0.72 0 1,0 1.44,0 a0.72,0.72 0 1,0 -1.44,0 M66.79,68.00 a0.72,0.72 0 1,0 1.44,0 a0.72,0.72 0 1,0 -1.44,0 M72.52,67.09 a0.72,0.72 0 1,0 1.44,0 a0.72,0.72 0 1,0 -1.44,0 M78.24,66.18 a0.72,0.72 0 1,0 1.44,0 a0.72,0.72 0 1,0 -1.44,0 M83.97,65.27 a0.72,0.72 0 1,0 1.44,0 a0.72,0.72 0 1,0 -1.44,0 M89.70,64.36 a0.72,0.72 0 1,0 1.44,0 a0.72,0.72 0 1,0 -1.44,0 M95.43,63.45 a0.72,0.72 0 1,0 1.44,0 a0.72,0.72 0 1,0 -1.44,0 M101.15,62.55 a0.72,0.72 0 1,0 1.44,0 a0.72,0.72 0 1,0 -1.44,0 M106.88,61.64 a0.72,0.72 0 1,0 1.44,0 a0.72,0.72 0 1,0 -1.44,0 M112.61,60.73 a0.72,0.72 0 1,0 1.44,0 a0.72,0.72 0 1,0 -1.44,0 M52.03,72.05 a0.72,0.72 0 1,0 1.44,0 a0.72,0.72 0 1,0 -1.44,0 M57.75,71.14 a0.72,0.72 0 1,0 1.44,0 a0.72,0.72 0 1,0 -1.44,0 M63.48,70.23 a0.72,0.72 0 1,0 1.44,0 a0.72,0.72 0 1,0 -1.44,0 M69.21,69.32 a0.72,0.72 0 1,0 1.44,0 a0.72,0.72 0 1,0 -1.44,0 M74.93,68.41 a0.72,0.72 0 1,0 1.44,0 a0.72,0.72 0 1,0 -1.44,0 M80.66,67.50 a0.72,0.72 0 1,0 1.44,0 a0.72,0.72 0 1,0 -1.44,0 M86.39,66.59 a0.72,0.72 0 1,0 1.44,0 a0.72,0.72 0 1,0 -1.44,0 M92.12,65.68 a0.72,0.72 0 1,0 1.44,0 a0.72,0.72 0 1,0 -1.44,0 M97.84,64.77 a0.72,0.72 0 1,0 1.44,0 a0.72,0.72 0 1,0 -1.44,0 M103.57,63.86 a0.72,0.72 0 1,0 1.44,0 a0.72,0.72 0 1,0 -1.44,0 M109.30,62.95 a0.72,0.72 0 1,0 1.44,0 a0.72,0.72 0 1,0 -1.44,0 M115.03,62.05 a0.72,0.72 0 1,0 1.44,0 a0.72,0.72 0 1,0 -1.44,0 M54.44,73.36 a0.72,0.72 0 1,0 1.44,0 a0.72,0.72 0 1,0 -1.44,0 M60.17,72.45 a0.72,0.72 0 1,0 1.44,0 a0.72,0.72 0 1,0 -1.44,0 M65.90,71.55 a0.72,0.72 0 1,0 1.44,0 a0.72,0.72 0 1,0 -1.44,0 M71.63,70.64 a0.72,0.72 0 1,0 1.44,0 a0.72,0.72 0 1,0 -1.44,0 M77.35,69.73 a0.72,0.72 0 1,0 1.44,0 a0.72,0.72 0 1,0 -1.44,0 M83.08,68.82 a0.72,0.72 0 1,0 1.44,0 a0.72,0.72 0 1,0 -1.44,0 M88.81,67.91 a0.72,0.72 0 1,0 1.44,0 a0.72,0.72 0 1,0 -1.44,0 M94.53,67.00 a0.72,0.72 0 1,0 1.44,0 a0.72,0.72 0 1,0 -1.44,0 M100.26,66.09 a0.72,0.72 0 1,0 1.44,0 a0.72,0.72 0 1,0 -1.44,0 M105.99,65.18 a0.72,0.72 0 1,0 1.44,0 a0.72,0.72 0 1,0 -1.44,0 M111.72,64.27 a0.72,0.72 0 1,0 1.44,0 a0.72,0.72 0 1,0 -1.44,0 M117.44,63.36 a0.72,0.72 0 1,0 1.44,0 a0.72,0.72 0 1,0 -1.44,0 M56.86,74.68 a0.72,0.72 0 1,0 1.44,0 a0.72,0.72 0 1,0 -1.44,0 M62.59,73.77 a0.72,0.72 0 1,0 1.44,0 a0.72,0.72 0 1,0 -1.44,0 M68.32,72.86 a0.72,0.72 0 1,0 1.44,0 a0.72,0.72 0 1,0 -1.44,0 M74.04,71.95 a0.72,0.72 0 1,0 1.44,0 a0.72,0.72 0 1,0 -1.44,0 M79.77,71.05 a0.72,0.72 0 1,0 1.44,0 a0.72,0.72 0 1,0 -1.44,0 M85.50,70.14 a0.72,0.72 0 1,0 1.44,0 a0.72,0.72 0 1,0 -1.44,0 M91.23,69.23 a0.72,0.72 0 1,0 1.44,0 a0.72,0.72 0 1,0 -1.44,0 M96.95,68.32 a0.72,0.72 0 1,0 1.44,0 a0.72,0.72 0 1,0 -1.44,0 M102.68,67.41 a0.72,0.72 0 1,0 1.44,0 a0.72,0.72 0 1,0 -1.44,0 M108.41,66.50 a0.72,0.72 0 1,0 1.44,0 a0.72,0.72 0 1,0 -1.44,0 M114.13,65.59 a0.72,0.72 0 1,0 1.44,0 a0.72,0.72 0 1,0 -1.44,0 M119.86,64.68 a0.72,0.72 0 1,0 1.44,0 a0.72,0.72 0 1,0 -1.44,0 M59.28,76.00 a0.72,0.72 0 1,0 1.44,0 a0.72,0.72 0 1,0 -1.44,0 M65.01,75.09 a0.72,0.72 0 1,0 1.44,0 a0.72,0.72 0 1,0 -1.44,0 M70.73,74.18 a0.72,0.72 0 1,0 1.44,0 a0.72,0.72 0 1,0 -1.44,0 M76.46,73.27 a0.72,0.72 0 1,0 1.44,0 a0.72,0.72 0 1,0 -1.44,0 M82.19,72.36 a0.72,0.72 0 1,0 1.44,0 a0.72,0.72 0 1,0 -1.44,0 M87.92,71.45 a0.72,0.72 0 1,0 1.44,0 a0.72,0.72 0 1,0 -1.44,0 M93.64,70.55 a0.72,0.72 0 1,0 1.44,0 a0.72,0.72 0 1,0 -1.44,0 M99.37,69.64 a0.72,0.72 0 1,0 1.44,0 a0.72,0.72 0 1,0 -1.44,0 M105.10,68.73 a0.72,0.72 0 1,0 1.44,0 a0.72,0.72 0 1,0 -1.44,0 M110.83,67.82 a0.72,0.72 0 1,0 1.44,0 a0.72,0.72 0 1,0 -1.44,0 M116.55,66.91 a0.72,0.72 0 1,0 1.44,0 a0.72,0.72 0 1,0 -1.44,0 M122.28,66.00 a0.72,0.72 0 1,0 1.44,0 a0.72,0.72 0 1,0 -1.44,0" fill="#1a36a8"/>
<path d="M33.30,55.75 L96.30,45.75 M35.72,57.07 L98.72,47.07 M38.14,58.39 L101.14,48.39 M40.55,59.70 L103.55,49.70 M42.97,61.02 L105.97,51.02 M45.39,62.34 L108.39,52.34 M47.81,63.66 L110.81,53.66 M50.23,64.98 L113.23,54.98 M52.65,66.30 L115.65,56.30 M55.06,67.61 L118.06,57.61 M57.48,68.93 L120.48,58.93 M59.90,70.25 L122.90,60.25" fill="none" stroke="#3aa4b8" stroke-width="0.5" stroke-linecap="round"/>
<path d="M33.30,55.75 L59.90,70.25 M39.03,54.84 L65.63,69.34 M44.75,53.93 L71.35,68.43 M50.48,53.02 L77.08,67.52 M56.21,52.11 L82.81,66.61 M61.94,51.20 L88.54,65.70 M67.66,50.30 L94.26,64.80 M73.39,49.39 L99.99,63.89 M79.12,48.48 L105.72,62.98 M84.85,47.57 L111.45,62.07 M90.57,46.66 L117.17,61.16 M96.30,45.75 L122.90,60.25" fill="none" stroke="#36a6ba" stroke-width="1.6" stroke-linecap="round"/>
<path d="M32.58,55.75 a0.72,0.72 0 1,0 1.44,0 a0.72,0.72 0 1,0 -1.44,0 M38.31,54.84 a0.72,0.72 0 1,0 1.44,0 a0.72,0.72 0 1,0 -1.44,0 M44.03,53.93 a0.72,0.72 0 1,0 1.44,0 a0.72,0.72 0 1,0 -1.44,0 M49.76,53.02 a0.72,0.72 0 1,0 1.44,0 a0.72,0.72 0 1,0 -1.44,0 M55.49,52.11 a0.72,0.72 0 1,0 1.44,0 a0.72,0.72 0 1,0 -1.44,0 M61.22,51.20 a0.72,0.72 0 1,0 1.44,0 a0.72,0.72 0 1,0 -1.44,0 M66.94,50.30 a0.72,0.72 0 1,0 1.44,0 a0.72,0.72 0 1,0 -1.44,0 M72.67,49.39 a0.72,0.72 0 1,0 1.44,0 a0.72,0.72 0 1,0 -1.44,0 M78.40,48.48 a0.72,0.72 0 1,0 1.44,0 a0.72,0.72 0 1,0 -1.44,0 M84.13,47.57 a0.72,0.72 0 1,0 1.44,0 a0.72,0.72 0 1,0 -1.44,0 M89.85,46.66 a0.72,0.72 0 1,0 1.44,0 a0.72,0.72 0 1,0 -1.44,0 M95.58,45.75 a0.72,0.72 0 1,0 1.44,0 a0.72,0.72 0 1,0 -1.44,0 M35.00,57.07 a0.72,0.72 0 1,0 1.44,0 a0.72,0.72 0 1,0 -1.44,0 M40.73,56.16 a0.72,0.72 0 1,0 1.44,0 a0.72,0.72 0 1,0 -1.44,0 M46.45,55.25 a0.72,0.72 0 1,0 1.44,0 a0.72,0.72 0 1,0 -1.44,0 M52.18,54.34 a0.72,0.72 0 1,0 1.44,0 a0.72,0.72 0 1,0 -1.44,0 M57.91,53.43 a0.72,0.72 0 1,0 1.44,0 a0.72,0.72 0 1,0 -1.44,0 M63.63,52.52 a0.72,0.72 0 1,0 1.44,0 a0.72,0.72 0 1,0 -1.44,0 M69.36,51.61 a0.72,0.72 0 1,0 1.44,0 a0.72,0.72 0 1,0 -1.44,0 M75.09,50.70 a0.72,0.72 0 1,0 1.44,0 a0.72,0.72 0 1,0 -1.44,0 M80.82,49.80 a0.72,0.72 0 1,0 1.44,0 a0.72,0.72 0 1,0 -1.44,0 M86.54,48.89 a0.72,0.72 0 1,0 1.44,0 a0.72,0.72 0 1,0 -1.44,0 M92.27,47.98 a0.72,0.72 0 1,0 1.44,0 a0.72,0.72 0 1,0 -1.44,0 M98.00,47.07 a0.72,0.72 0 1,0 1.44,0 a0.72,0.72 0 1,0 -1.44,0 M37.42,58.39 a0.72,0.72 0 1,0 1.44,0 a0.72,0.72 0 1,0 -1.44,0 M43.14,57.48 a0.72,0.72 0 1,0 1.44,0 a0.72,0.72 0 1,0 -1.44,0 M48.87,56.57 a0.72,0.72 0 1,0 1.44,0 a0.72,0.72 0 1,0 -1.44,0 M54.60,55.66 a0.72,0.72 0 1,0 1.44,0 a0.72,0.72 0 1,0 -1.44,0 M60.33,54.75 a0.72,0.72 0 1,0 1.44,0 a0.72,0.72 0 1,0 -1.44,0 M66.05,53.84 a0.72,0.72 0 1,0 1.44,0 a0.72,0.72 0 1,0 -1.44,0 M71.78,52.93 a0.72,0.72 0 1,0 1.44,0 a0.72,0.72 0 1,0 -1.44,0 M77.51,52.02 a0.72,0.72 0 1,0 1.44,0 a0.72,0.72 0 1,0 -1.44,0 M83.23,51.11 a0.72,0.72 0 1,0 1.44,0 a0.72,0.72 0 1,0 -1.44,0 M88.96,50.20 a0.72,0.72 0 1,0 1.44,0 a0.72,0.72 0 1,0 -1.44,0 M94.69,49.30 a0.72,0.72 0 1,0 1.44,0 a0.72,0.72 0 1,0 -1.44,0 M100.42,48.39 a0.72,0.72 0 1,0 1.44,0 a0.72,0.72 0 1,0 -1.44,0 M39.83,59.70 a0.72,0.72 0 1,0 1.44,0 a0.72,0.72 0 1,0 -1.44,0 M45.56,58.80 a0.72,0.72 0 1,0 1.44,0 a0.72,0.72 0 1,0 -1.44,0 M51.29,57.89 a0.72,0.72 0 1,0 1.44,0 a0.72,0.72 0 1,0 -1.44,0 M57.02,56.98 a0.72,0.72 0 1,0 1.44,0 a0.72,0.72 0 1,0 -1.44,0 M62.74,56.07 a0.72,0.72 0 1,0 1.44,0 a0.72,0.72 0 1,0 -1.44,0 M68.47,55.16 a0.72,0.72 0 1,0 1.44,0 a0.72,0.72 0 1,0 -1.44,0 M74.20,54.25 a0.72,0.72 0 1,0 1.44,0 a0.72,0.72 0 1,0 -1.44,0 M79.93,53.34 a0.72,0.72 0 1,0 1.44,0 a0.72,0.72 0 1,0 -1.44,0 M85.65,52.43 a0.72,0.72 0 1,0 1.44,0 a0.72,0.72 0 1,0 -1.44,0 M91.38,51.52 a0.72,0.72 0 1,0 1.44,0 a0.72,0.72 0 1,0 -1.44,0 M97.11,50.61 a0.72,0.72 0 1,0 1.44,0 a0.72,0.72 0 1,0 -1.44,0 M102.83,49.70 a0.72,0.72 0 1,0 1.44,0 a0.72,0.72 0 1,0 -1.44,0 M42.25,61.02 a0.72,0.72 0 1,0 1.44,0 a0.72,0.72 0 1,0 -1.44,0 M47.98,60.11 a0.72,0.72 0 1,0 1.44,0 a0.72,0.72 0 1,0 -1.44,0 M53.71,59.20 a0.72,0.72 0 1,0 1.44,0 a0.72,0.72 0 1,0 -1.44,0 M59.43,58.30 a0.72,0.72 0 1,0 1.44,0 a0.72,0.72 0 1,0 -1.44,0 M65.16,57.39 a0.72,0.72 0 1,0 1.44,0 a0.72,0.72 0 1,0 -1.44,0 M70.89,56.48 a0.72,0.72 0 1,0 1.44,0 a0.72,0.72 0 1,0 -1.44,0 M76.62,55.57 a0.72,0.72 0 1,0 1.44,0 a0.72,0.72 0 1,0 -1.44,0 M82.34,54.66 a0.72,0.72 0 1,0 1.44,0 a0.72,0.72 0 1,0 -1.44,0 M88.07,53.75 a0.72,0.72 0 1,0 1.44,0 a0.72,0.72 0 1,0 -1.44,0 M93.80,52.84 a0.72,0.72 0 1,0 1.44,0 a0.72,0.72 0 1,0 -1.44,0 M99.53,51.93 a0.72,0.72 0 1,0 1.44,0 a0.72,0.72 0 1,0 -1.44,0 M105.25,51.02 a0.72,0.72 0 1,0 1.44,0 a0.72,0.72 0 1,0 -1.44,0 M44.67,62.34 a0.72,0.72 0 1,0 1.44,0 a0.72,0.72 0 1,0 -1.44,0 M50.40,61.43 a0.72,0.72 0 1,0 1.44,0 a0.72,0.72 0 1,0 -1.44,0 M56.13,60.52 a0.72,0.72 0 1,0 1.44,0 a0.72,0.72 0 1,0 -1.44,0 M61.85,59.61 a0.72,0.72 0 1,0 1.44,0 a0.72,0.72 0 1,0 -1.44,0 M67.58,58.70 a0.72,0.72 0 1,0 1.44,0 a0.72,0.72 0 1,0 -1.44,0 M73.31,57.80 a0.72,0.72 0 1,0 1.44,0 a0.72,0.72 0 1,0 -1.44,0 M79.03,56.89 a0.72,0.72 0 1,0 1.44,0 a0.72,0.72 0 1,0 -1.44,0 M84.76,55.98 a0.72,0.72 0 1,0 1.44,0 a0.72,0.72 0 1,0 -1.44,0 M90.49,55.07 a0.72,0.72 0 1,0 1.44,0 a0.72,0.72 0 1,0 -1.44,0 M96.22,54.16 a0.72,0.72 0 1,0 1.44,0 a0.72,0.72 0 1,0 -1.44,0 M101.94,53.25 a0.72,0.72 0 1,0 1.44,0 a0.72,0.72 0 1,0 -1.44,0 M107.67,52.34 a0.72,0.72 0 1,0 1.44,0 a0.72,0.72 0 1,0 -1.44,0 M47.09,63.66 a0.72,0.72 0 1,0 1.44,0 a0.72,0.72 0 1,0 -1.44,0 M52.82,62.75 a0.72,0.72 0 1,0 1.44,0 a0.72,0.72 0 1,0 -1.44,0 M58.54,61.84 a0.72,0.72 0 1,0 1.44,0 a0.72,0.72 0 1,0 -1.44,0 M64.27,60.93 a0.72,0.72 0 1,0 1.44,0 a0.72,0.72 0 1,0 -1.44,0 M70.00,60.02 a0.72,0.72 0 1,0 1.44,0 a0.72,0.72 0 1,0 -1.44,0 M75.73,59.11 a0.72,0.72 0 1,0 1.44,0 a0.72,0.72 0 1,0 -1.44,0 M81.45,58.20 a0.72,0.72 0 1,0 1.44,0 a0.72,0.72 0 1,0 -1.44,0 M87.18,57.30 a0.72,0.72 0 1,0 1.44,0 a0.72,0.72 0 1,0 -1.44,0 M92.91,56.39 a0.72,0.72 0 1,0 1.44,0 a0.72,0.72 0 1,0 -1.44,0 M98.63,55.48 a0.72,0.72 0 1,0 1.44,0 a0.72,0.72 0 1,0 -1.44,0 M104.36,54.57 a0.72,0.72 0 1,0 1.44,0 a0.72,0.72 0 1,0 -1.44,0 M110.09,53.66 a0.72,0.72 0 1,0 1.44,0 a0.72,0.72 0 1,0 -1.44,0 M49.51,64.98 a0.72,0.72 0 1,0 1.44,0 a0.72,0.72 0 1,0 -1.44,0 M55.23,64.07 a0.72,0.72 0 1,0 1.44,0 a0.72,0.72 0 1,0 -1.44,0 M60.96,63.16 a0.72,0.72 0 1,0 1.44,0 a0.72,0.72 0 1,0 -1.44,0 M66.69,62.25 a0.72,0.72 0 1,0 1.44,0 a0.72,0.72 0 1,0 -1.44,0 M72.42,61.34 a0.72,0.72 0 1,0 1.44,0 a0.72,0.72 0 1,0 -1.44,0 M78.14,60.43 a0.72,0.72 0 1,0 1.44,0 a0.72,0.72 0 1,0 -1.44,0 M83.87,59.52 a0.72,0.72 0 1,0 1.44,0 a0.72,0.72 0 1,0 -1.44,0 M89.60,58.61 a0.72,0.72 0 1,0 1.44,0 a0.72,0.72 0 1,0 -1.44,0 M95.33,57.70 a0.72,0.72 0 1,0 1.44,0 a0.72,0.72 0 1,0 -1.44,0 M101.05,56.80 a0.72,0.72 0 1,0 1.44,0 a0.72,0.72 0 1,0 -1.44,0 M106.78,55.89 a0.72,0.72 0 1,0 1.44,0 a0.72,0.72 0 1,0 -1.44,0 M112.51,54.98 a0.72,0.72 0 1,0 1.44,0 a0.72,0.72 0 1,0 -1.44,0 M51.93,66.30 a0.72,0.72 0 1,0 1.44,0 a0.72,0.72 0 1,0 -1.44,0 M57.65,65.39 a0.72,0.72 0 1,0 1.44,0 a0.72,0.72 0 1,0 -1.44,0 M63.38,64.48 a0.72,0.72 0 1,0 1.44,0 a0.72,0.72 0 1,0 -1.44,0 M69.11,63.57 a0.72,0.72 0 1,0 1.44,0 a0.72,0.72 0 1,0 -1.44,0 M74.83,62.66 a0.72,0.72 0 1,0 1.44,0 a0.72,0.72 0 1,0 -1.44,0 M80.56,61.75 a0.72,0.72 0 1,0 1.44,0 a0.72,0.72 0 1,0 -1.44,0 M86.29,60.84 a0.72,0.72 0 1,0 1.44,0 a0.72,0.72 0 1,0 -1.44,0 M92.02,59.93 a0.72,0.72 0 1,0 1.44,0 a0.72,0.72 0 1,0 -1.44,0 M97.74,59.02 a0.72,0.72 0 1,0 1.44,0 a0.72,0.72 0 1,0 -1.44,0 M103.47,58.11 a0.72,0.72 0 1,0 1.44,0 a0.72,0.72 0 1,0 -1.44,0 M109.20,57.20 a0.72,0.72 0 1,0 1.44,0 a0.72,0.72 0 1,0 -1.44,0 M114.93,56.30 a0.72,0.72 0 1,0 1.44,0 a0.72,0.72 0 1,0 -1.44,0 M54.34,67.61 a0.72,0.72 0 1,0 1.44,0 a0.72,0.72 0 1,0 -1.44,0 M60.07,66.70 a0.72,0.72 0 1,0 1.44,0 a0.72,0.72 0 1,0 -1.44,0 M65.80,65.80 a0.72,0.72 0 1,0 1.44,0 a0.72,0.72 0 1,0 -1.44,0 M71.53,64.89 a0.72,0.72 0 1,0 1.44,0 a0.72,0.72 0 1,0 -1.44,0 M77.25,63.98 a0.72,0.72 0 1,0 1.44,0 a0.72,0.72 0 1,0 -1.44,0 M82.98,63.07 a0.72,0.72 0 1,0 1.44,0 a0.72,0.72 0 1,0 -1.44,0 M88.71,62.16 a0.72,0.72 0 1,0 1.44,0 a0.72,0.72 0 1,0 -1.44,0 M94.43,61.25 a0.72,0.72 0 1,0 1.44,0 a0.72,0.72 0 1,0 -1.44,0 M100.16,60.34 a0.72,0.72 0 1,0 1.44,0 a0.72,0.72 0 1,0 -1.44,0 M105.89,59.43 a0.72,0.72 0 1,0 1.44,0 a0.72,0.72 0 1,0 -1.44,0 M111.62,58.52 a0.72,0.72 0 1,0 1.44,0 a0.72,0.72 0 1,0 -1.44,0 M117.34,57.61 a0.72,0.72 0 1,0 1.44,0 a0.72,0.72 0 1,0 -1.44,0 M56.76,68.93 a0.72,0.72 0 1,0 1.44,0 a0.72,0.72 0 1,0 -1.44,0 M62.49,68.02 a0.72,0.72 0 1,0 1.44,0 a0.72,0.72 0 1,0 -1.44,0 M68.22,67.11 a0.72,0.72 0 1,0 1.44,0 a0.72,0.72 0 1,0 -1.44,0 M73.94,66.20 a0.72,0.72 0 1,0 1.44,0 a0.72,0.72 0 1,0 -1.44,0 M79.67,65.30 a0.72,0.72 0 1,0 1.44,0 a0.72,0.72 0 1,0 -1.44,0 M85.40,64.39 a0.72,0.72 0 1,0 1.44,0 a0.72,0.72 0 1,0 -1.44,0 M91.13,63.48 a0.72,0.72 0 1,0 1.44,0 a0.72,0.72 0 1,0 -1.44,0 M96.85,62.57 a0.72,0.72 0 1,0 1.44,0 a0.72,0.72 0 1,0 -1.44,0 M102.58,61.66 a0.72,0.72 0 1,0 1.44,0 a0.72,0.72 0 1,0 -1.44,0 M108.31,60.75 a0.72,0.72 0 1,0 1.44,0 a0.72,0.72 0 1,0 -1.44,0 M114.03,59.84 a0.72,0.72 0 1,0 1.44,0 a0.72,0.72 0 1,0 -1.44,0 M119.76,58.93 a0.72,0.72 0 1,0 1.44,0 a0.72,0.72 0 1,0 -1.44,0 M59.18,70.25 a0.72,0.72 0 1,0 1.44,0 a0.72,0.72 0 1,0 -1.44,0 M64.91,69.34 a0.72,0.72 0 1,0 1.44,0 a0.72,0.72 0 1,0 -1.44,0 M70.63,68.43 a0.72,0.72 0 1,0 1.44,0 a0.72,0.72 0 1,0 -1.44,0 M76.36,67.52 a0.72,0.72 0 1,0 1.44,0 a0.72,0.72 0 1,0 -1.44,0 M82.09,66.61 a0.72,0.72 0 1,0 1.44,0 a0.72,0.72 0 1,0 -1.44,0 M87.82,65.70 a0.72,0.72 0 1,0 1.44,0 a0.72,0.72 0 1,0 -1.44,0 M93.54,64.80 a0.72,0.72 0 1,0 1.44,0 a0.72,0.72 0 1,0 -1.44,0 M99.27,63.89 a0.72,0.72 0 1,0 1.44,0 a0.72,0.72 0 1,0 -1.44,0 M105.00,62.98 a0.72,0.72 0 1,0 1.44,0 a0.72,0.72 0 1,0 -1.44,0 M110.73,62.07 a0.72,0.72 0 1,0 1.44,0 a0.72,0.72 0 1,0 -1.44,0 M116.45,61.16 a0.72,0.72 0 1,0 1.44,0 a0.72,0.72 0 1,0 -1.44,0 M122.18,60.25 a0.72,0.72 0 1,0 1.44,0 a0.72,0.72 0 1,0 -1.44,0" fill="#1a36a8"/>
<path d="M33.20,50.00 L96.20,40.00 M35.62,51.32 L98.62,41.32 M38.04,52.64 L101.04,42.64 M40.45,53.95 L103.45,43.95 M42.87,55.27 L105.87,45.27 M45.29,56.59 L108.29,46.59 M47.71,57.91 L110.71,47.91 M50.13,59.23 L113.13,49.23 M52.55,60.55 L115.55,50.55 M54.96,61.86 L117.96,51.86 M57.38,63.18 L120.38,53.18 M59.80,64.50 L122.80,54.50" fill="none" stroke="#3aa4b8" stroke-width="0.5" stroke-linecap="round"/>
<path d="M33.20,50.00 L59.80,64.50 M38.93,49.09 L65.53,63.59 M44.65,48.18 L71.25,62.68 M50.38,47.27 L76.98,61.77 M56.11,46.36 L82.71,60.86 M61.84,45.45 L88.44,59.95 M67.56,44.55 L94.16,59.05 M73.29,43.64 L99.89,58.14 M79.02,42.73 L105.62,57.23 M84.75,41.82 L111.35,56.32 M90.47,40.91 L117.07,55.41 M96.20,40.00 L122.80,54.50" fill="none" stroke="#36a6ba" stroke-width="1.6" stroke-linecap="round"/>
<path d="M32.48,50.00 a0.72,0.72 0 1,0 1.44,0 a0.72,0.72 0 1,0 -1.44,0 M38.21,49.09 a0.72,0.72 0 1,0 1.44,0 a0.72,0.72 0 1,0 -1.44,0 M43.93,48.18 a0.72,0.72 0 1,0 1.44,0 a0.72,0.72 0 1,0 -1.44,0 M49.66,47.27 a0.72,0.72 0 1,0 1.44,0 a0.72,0.72 0 1,0 -1.44,0 M55.39,46.36 a0.72,0.72 0 1,0 1.44,0 a0.72,0.72 0 1,0 -1.44,0 M61.12,45.45 a0.72,0.72 0 1,0 1.44,0 a0.72,0.72 0 1,0 -1.44,0 M66.84,44.55 a0.72,0.72 0 1,0 1.44,0 a0.72,0.72 0 1,0 -1.44,0 M72.57,43.64 a0.72,0.72 0 1,0 1.44,0 a0.72,0.72 0 1,0 -1.44,0 M78.30,42.73 a0.72,0.72 0 1,0 1.44,0 a0.72,0.72 0 1,0 -1.44,0 M84.03,41.82 a0.72,0.72 0 1,0 1.44,0 a0.72,0.72 0 1,0 -1.44,0 M89.75,40.91 a0.72,0.72 0 1,0 1.44,0 a0.72,0.72 0 1,0 -1.44,0 M95.48,40.00 a0.72,0.72 0 1,0 1.44,0 a0.72,0.72 0 1,0 -1.44,0 M34.90,51.32 a0.72,0.72 0 1,0 1.44,0 a0.72,0.72 0 1,0 -1.44,0 M40.63,50.41 a0.72,0.72 0 1,0 1.44,0 a0.72,0.72 0 1,0 -1.44,0 M46.35,49.50 a0.72,0.72 0 1,0 1.44,0 a0.72,0.72 0 1,0 -1.44,0 M52.08,48.59 a0.72,0.72 0 1,0 1.44,0 a0.72,0.72 0 1,0 -1.44,0 M57.81,47.68 a0.72,0.72 0 1,0 1.44,0 a0.72,0.72 0 1,0 -1.44,0 M63.53,46.77 a0.72,0.72 0 1,0 1.44,0 a0.72,0.72 0 1,0 -1.44,0 M69.26,45.86 a0.72,0.72 0 1,0 1.44,0 a0.72,0.72 0 1,0 -1.44,0 M74.99,44.95 a0.72,0.72 0 1,0 1.44,0 a0.72,0.72 0 1,0 -1.44,0 M80.72,44.05 a0.72,0.72 0 1,0 1.44,0 a0.72,0.72 0 1,0 -1.44,0 M86.44,43.14 a0.72,0.72 0 1,0 1.44,0 a0.72,0.72 0 1,0 -1.44,0 M92.17,42.23 a0.72,0.72 0 1,0 1.44,0 a0.72,0.72 0 1,0 -1.44,0 M97.90,41.32 a0.72,0.72 0 1,0 1.44,0 a0.72,0.72 0 1,0 -1.44,0 M37.32,52.64 a0.72,0.72 0 1,0 1.44,0 a0.72,0.72 0 1,0 -1.44,0 M43.04,51.73 a0.72,0.72 0 1,0 1.44,0 a0.72,0.72 0 1,0 -1.44,0 M48.77,50.82 a0.72,0.72 0 1,0 1.44,0 a0.72,0.72 0 1,0 -1.44,0 M54.50,49.91 a0.72,0.72 0 1,0 1.44,0 a0.72,0.72 0 1,0 -1.44,0 M60.23,49.00 a0.72,0.72 0 1,0 1.44,0 a0.72,0.72 0 1,0 -1.44,0 M65.95,48.09 a0.72,0.72 0 1,0 1.44,0 a0.72,0.72 0 1,0 -1.44,0 M71.68,47.18 a0.72,0.72 0 1,0 1.44,0 a0.72,0.72 0 1,0 -1.44,0 M77.41,46.27 a0.72,0.72 0 1,0 1.44,0 a0.72,0.72 0 1,0 -1.44,0 M83.13,45.36 a0.72,0.72 0 1,0 1.44,0 a0.72,0.72 0 1,0 -1.44,0 M88.86,44.45 a0.72,0.72 0 1,0 1.44,0 a0.72,0.72 0 1,0 -1.44,0 M94.59,43.55 a0.72,0.72 0 1,0 1.44,0 a0.72,0.72 0 1,0 -1.44,0 M100.32,42.64 a0.72,0.72 0 1,0 1.44,0 a0.72,0.72 0 1,0 -1.44,0 M39.73,53.95 a0.72,0.72 0 1,0 1.44,0 a0.72,0.72 0 1,0 -1.44,0 M45.46,53.05 a0.72,0.72 0 1,0 1.44,0 a0.72,0.72 0 1,0 -1.44,0 M51.19,52.14 a0.72,0.72 0 1,0 1.44,0 a0.72,0.72 0 1,0 -1.44,0 M56.92,51.23 a0.72,0.72 0 1,0 1.44,0 a0.72,0.72 0 1,0 -1.44,0 M62.64,50.32 a0.72,0.72 0 1,0 1.44,0 a0.72,0.72 0 1,0 -1.44,0 M68.37,49.41 a0.72,0.72 0 1,0 1.44,0 a0.72,0.72 0 1,0 -1.44,0 M74.10,48.50 a0.72,0.72 0 1,0 1.44,0 a0.72,0.72 0 1,0 -1.44,0 M79.83,47.59 a0.72,0.72 0 1,0 1.44,0 a0.72,0.72 0 1,0 -1.44,0 M85.55,46.68 a0.72,0.72 0 1,0 1.44,0 a0.72,0.72 0 1,0 -1.44,0 M91.28,45.77 a0.72,0.72 0 1,0 1.44,0 a0.72,0.72 0 1,0 -1.44,0 M97.01,44.86 a0.72,0.72 0 1,0 1.44,0 a0.72,0.72 0 1,0 -1.44,0 M102.73,43.95 a0.72,0.72 0 1,0 1.44,0 a0.72,0.72 0 1,0 -1.44,0 M42.15,55.27 a0.72,0.72 0 1,0 1.44,0 a0.72,0.72 0 1,0 -1.44,0 M47.88,54.36 a0.72,0.72 0 1,0 1.44,0 a0.72,0.72 0 1,0 -1.44,0 M53.61,53.45 a0.72,0.72 0 1,0 1.44,0 a0.72,0.72 0 1,0 -1.44,0 M59.33,52.55 a0.72,0.72 0 1,0 1.44,0 a0.72,0.72 0 1,0 -1.44,0 M65.06,51.64 a0.72,0.72 0 1,0 1.44,0 a0.72,0.72 0 1,0 -1.44,0 M70.79,50.73 a0.72,0.72 0 1,0 1.44,0 a0.72,0.72 0 1,0 -1.44,0 M76.52,49.82 a0.72,0.72 0 1,0 1.44,0 a0.72,0.72 0 1,0 -1.44,0 M82.24,48.91 a0.72,0.72 0 1,0 1.44,0 a0.72,0.72 0 1,0 -1.44,0 M87.97,48.00 a0.72,0.72 0 1,0 1.44,0 a0.72,0.72 0 1,0 -1.44,0 M93.70,47.09 a0.72,0.72 0 1,0 1.44,0 a0.72,0.72 0 1,0 -1.44,0 M99.43,46.18 a0.72,0.72 0 1,0 1.44,0 a0.72,0.72 0 1,0 -1.44,0 M105.15,45.27 a0.72,0.72 0 1,0 1.44,0 a0.72,0.72 0 1,0 -1.44,0 M44.57,56.59 a0.72,0.72 0 1,0 1.44,0 a0.72,0.72 0 1,0 -1.44,0 M50.30,55.68 a0.72,0.72 0 1,0 1.44,0 a0.72,0.72 0 1,0 -1.44,0 M56.03,54.77 a0.72,0.72 0 1,0 1.44,0 a0.72,0.72 0 1,0 -1.44,0 M61.75,53.86 a0.72,0.72 0 1,0 1.44,0 a0.72,0.72 0 1,0 -1.44,0 M67.48,52.95 a0.72,0.72 0 1,0 1.44,0 a0.72,0.72 0 1,0 -1.44,0 M73.21,52.05 a0.72,0.72 0 1,0 1.44,0 a0.72,0.72 0 1,0 -1.44,0 M78.93,51.14 a0.72,0.72 0 1,0 1.44,0 a0.72,0.72 0 1,0 -1.44,0 M84.66,50.23 a0.72,0.72 0 1,0 1.44,0 a0.72,0.72 0 1,0 -1.44,0 M90.39,49.32 a0.72,0.72 0 1,0 1.44,0 a0.72,0.72 0 1,0 -1.44,0 M96.12,48.41 a0.72,0.72 0 1,0 1.44,0 a0.72,0.72 0 1,0 -1.44,0 M101.84,47.50 a0.72,0.72 0 1,0 1.44,0 a0.72,0.72 0 1,0 -1.44,0 M107.57,46.59 a0.72,0.72 0 1,0 1.44,0 a0.72,0.72 0 1,0 -1.44,0 M46.99,57.91 a0.72,0.72 0 1,0 1.44,0 a0.72,0.72 0 1,0 -1.44,0 M52.72,57.00 a0.72,0.72 0 1,0 1.44,0 a0.72,0.72 0 1,0 -1.44,0 M58.44,56.09 a0.72,0.72 0 1,0 1.44,0 a0.72,0.72 0 1,0 -1.44,0 M64.17,55.18 a0.72,0.72 0 1,0 1.44,0 a0.72,0.72 0 1,0 -1.44,0 M69.90,54.27 a0.72,0.72 0 1,0 1.44,0 a0.72,0.72 0 1,0 -1.44,0 M75.63,53.36 a0.72,0.72 0 1,0 1.44,0 a0.72,0.72 0 1,0 -1.44,0 M81.35,52.45 a0.72,0.72 0 1,0 1.44,0 a0.72,0.72 0 1,0 -1.44,0 M87.08,51.55 a0.72,0.72 0 1,0 1.44,0 a0.72,0.72 0 1,0 -1.44,0 M92.81,50.64 a0.72,0.72 0 1,0 1.44,0 a0.72,0.72 0 1,0 -1.44,0 M98.53,49.73 a0.72,0.72 0 1,0 1.44,0 a0.72,0.72 0 1,0 -1.44,0 M104.26,48.82 a0.72,0.72 0 1,0 1.44,0 a0.72,0.72 0 1,0 -1.44,0 M109.99,47.91 a0.72,0.72 0 1,0 1.44,0 a0.72,0.72 0 1,0 -1.44,0 M49.41,59.23 a0.72,0.72 0 1,0 1.44,0 a0.72,0.72 0 1,0 -1.44,0 M55.13,58.32 a0.72,0.72 0 1,0 1.44,0 a0.72,0.72 0 1,0 -1.44,0 M60.86,57.41 a0.72,0.72 0 1,0 1.44,0 a0.72,0.72 0 1,0 -1.44,0 M66.59,56.50 a0.72,0.72 0 1,0 1.44,0 a0.72,0.72 0 1,0 -1.44,0 M72.32,55.59 a0.72,0.72 0 1,0 1.44,0 a0.72,0.72 0 1,0 -1.44,0 M78.04,54.68 a0.72,0.72 0 1,0 1.44,0 a0.72,0.72 0 1,0 -1.44,0 M83.77,53.77 a0.72,0.72 0 1,0 1.44,0 a0.72,0.72 0 1,0 -1.44,0 M89.50,52.86 a0.72,0.72 0 1,0 1.44,0 a0.72,0.72 0 1,0 -1.44,0 M95.23,51.95 a0.72,0.72 0 1,0 1.44,0 a0.72,0.72 0 1,0 -1.44,0 M100.95,51.05 a0.72,0.72 0 1,0 1.44,0 a0.72,0.72 0 1,0 -1.44,0 M106.68,50.14 a0.72,0.72 0 1,0 1.44,0 a0.72,0.72 0 1,0 -1.44,0 M112.41,49.23 a0.72,0.72 0 1,0 1.44,0 a0.72,0.72 0 1,0 -1.44,0 M51.83,60.55 a0.72,0.72 0 1,0 1.44,0 a0.72,0.72 0 1,0 -1.44,0 M57.55,59.64 a0.72,0.72 0 1,0 1.44,0 a0.72,0.72 0 1,0 -1.44,0 M63.28,58.73 a0.72,0.72 0 1,0 1.44,0 a0.72,0.72 0 1,0 -1.44,0 M69.01,57.82 a0.72,0.72 0 1,0 1.44,0 a0.72,0.72 0 1,0 -1.44,0 M74.73,56.91 a0.72,0.72 0 1,0 1.44,0 a0.72,0.72 0 1,0 -1.44,0 M80.46,56.00 a0.72,0.72 0 1,0 1.44,0 a0.72,0.72 0 1,0 -1.44,0 M86.19,55.09 a0.72,0.72 0 1,0 1.44,0 a0.72,0.72 0 1,0 -1.44,0 M91.92,54.18 a0.72,0.72 0 1,0 1.44,0 a0.72,0.72 0 1,0 -1.44,0 M97.64,53.27 a0.72,0.72 0 1,0 1.44,0 a0.72,0.72 0 1,0 -1.44,0 M103.37,52.36 a0.72,0.72 0 1,0 1.44,0 a0.72,0.72 0 1,0 -1.44,0 M109.10,51.45 a0.72,0.72 0 1,0 1.44,0 a0.72,0.72 0 1,0 -1.44,0 M114.83,50.55 a0.72,0.72 0 1,0 1.44,0 a0.72,0.72 0 1,0 -1.44,0 M54.24,61.86 a0.72,0.72 0 1,0 1.44,0 a0.72,0.72 0 1,0 -1.44,0 M59.97,60.95 a0.72,0.72 0 1,0 1.44,0 a0.72,0.72 0 1,0 -1.44,0 M65.70,60.05 a0.72,0.72 0 1,0 1.44,0 a0.72,0.72 0 1,0 -1.44,0 M71.43,59.14 a0.72,0.72 0 1,0 1.44,0 a0.72,0.72 0 1,0 -1.44,0 M77.15,58.23 a0.72,0.72 0 1,0 1.44,0 a0.72,0.72 0 1,0 -1.44,0 M82.88,57.32 a0.72,0.72 0 1,0 1.44,0 a0.72,0.72 0 1,0 -1.44,0 M88.61,56.41 a0.72,0.72 0 1,0 1.44,0 a0.72,0.72 0 1,0 -1.44,0 M94.33,55.50 a0.72,0.72 0 1,0 1.44,0 a0.72,0.72 0 1,0 -1.44,0 M100.06,54.59 a0.72,0.72 0 1,0 1.44,0 a0.72,0.72 0 1,0 -1.44,0 M105.79,53.68 a0.72,0.72 0 1,0 1.44,0 a0.72,0.72 0 1,0 -1.44,0 M111.52,52.77 a0.72,0.72 0 1,0 1.44,0 a0.72,0.72 0 1,0 -1.44,0 M117.24,51.86 a0.72,0.72 0 1,0 1.44,0 a0.72,0.72 0 1,0 -1.44,0 M56.66,63.18 a0.72,0.72 0 1,0 1.44,0 a0.72,0.72 0 1,0 -1.44,0 M62.39,62.27 a0.72,0.72 0 1,0 1.44,0 a0.72,0.72 0 1,0 -1.44,0 M68.12,61.36 a0.72,0.72 0 1,0 1.44,0 a0.72,0.72 0 1,0 -1.44,0 M73.84,60.45 a0.72,0.72 0 1,0 1.44,0 a0.72,0.72 0 1,0 -1.44,0 M79.57,59.55 a0.72,0.72 0 1,0 1.44,0 a0.72,0.72 0 1,0 -1.44,0 M85.30,58.64 a0.72,0.72 0 1,0 1.44,0 a0.72,0.72 0 1,0 -1.44,0 M91.03,57.73 a0.72,0.72 0 1,0 1.44,0 a0.72,0.72 0 1,0 -1.44,0 M96.75,56.82 a0.72,0.72 0 1,0 1.44,0 a0.72,0.72 0 1,0 -1.44,0 M102.48,55.91 a0.72,0.72 0 1,0 1.44,0 a0.72,0.72 0 1,0 -1.44,0 M108.21,55.00 a0.72,0.72 0 1,0 1.44,0 a0.72,0.72 0 1,0 -1.44,0 M113.93,54.09 a0.72,0.72 0 1,0 1.44,0 a0.72,0.72 0 1,0 -1.44,0 M119.66,53.18 a0.72,0.72 0 1,0 1.44,0 a0.72,0.72 0 1,0 -1.44,0 M59.08,64.50 a0.72,0.72 0 1,0 1.44,0 a0.72,0.72 0 1,0 -1.44,0 M64.81,63.59 a0.72,0.72 0 1,0 1.44,0 a0.72,0.72 0 1,0 -1.44,0 M70.53,62.68 a0.72,0.72 0 1,0 1.44,0 a0.72,0.72 0 1,0 -1.44,0 M76.26,61.77 a0.72,0.72 0 1,0 1.44,0 a0.72,0.72 0 1,0 -1.44,0 M81.99,60.86 a0.72,0.72 0 1,0 1.44,0 a0.72,0.72 0 1,0 -1.44,0 M87.72,59.95 a0.72,0.72 0 1,0 1.44,0 a0.72,0.72 0 1,0 -1.44,0 M93.44,59.05 a0.72,0.72 0 1,0 1.44,0 a0.72,0.72 0 1,0 -1.44,0 M99.17,58.14 a0.72,0.72 0 1,0 1.44,0 a0.72,0.72 0 1,0 -1.44,0 M104.90,57.23 a0.72,0.72 0 1,0 1.44,0 a0.72,0.72 0 1,0 -1.44,0 M110.63,56.32 a0.72,0.72 0 1,0 1.44,0 a0.72,0.72 0 1,0 -1.44,0 M116.35,55.41 a0.72,0.72 0 1,0 1.44,0 a0.72,0.72 0 1,0 -1.44,0 M122.08,54.50 a0.72,0.72 0 1,0 1.44,0 a0.72,0.72 0 1,0 -1.44,0" fill="#1a36a8"/>
<path d="M33.10,44.25 L96.10,34.25 M35.52,45.57 L98.52,35.57 M37.94,46.89 L100.94,36.89 M40.35,48.20 L103.35,38.20 M42.77,49.52 L105.77,39.52 M45.19,50.84 L108.19,40.84 M47.61,52.16 L110.61,42.16 M50.03,53.48 L113.03,43.48 M52.45,54.80 L115.45,44.80 M54.86,56.11 L117.86,46.11 M57.28,57.43 L120.28,47.43 M59.70,58.75 L122.70,48.75" fill="none" stroke="#3aa4b8" stroke-width="0.5" stroke-linecap="round"/>
<path d="M33.10,44.25 L59.70,58.75 M38.83,43.34 L65.43,57.84 M44.55,42.43 L71.15,56.93 M50.28,41.52 L76.88,56.02 M56.01,40.61 L82.61,55.11 M61.74,39.70 L88.34,54.20 M67.46,38.80 L94.06,53.30 M73.19,37.89 L99.79,52.39 M78.92,36.98 L105.52,51.48 M84.65,36.07 L111.25,50.57 M90.37,35.16 L116.97,49.66 M96.10,34.25 L122.70,48.75" fill="none" stroke="#36a6ba" stroke-width="1.6" stroke-linecap="round"/>
<path d="M32.38,44.25 a0.72,0.72 0 1,0 1.44,0 a0.72,0.72 0 1,0 -1.44,0 M38.11,43.34 a0.72,0.72 0 1,0 1.44,0 a0.72,0.72 0 1,0 -1.44,0 M43.83,42.43 a0.72,0.72 0 1,0 1.44,0 a0.72,0.72 0 1,0 -1.44,0 M49.56,41.52 a0.72,0.72 0 1,0 1.44,0 a0.72,0.72 0 1,0 -1.44,0 M55.29,40.61 a0.72,0.72 0 1,0 1.44,0 a0.72,0.72 0 1,0 -1.44,0 M61.02,39.70 a0.72,0.72 0 1,0 1.44,0 a0.72,0.72 0 1,0 -1.44,0 M66.74,38.80 a0.72,0.72 0 1,0 1.44,0 a0.72,0.72 0 1,0 -1.44,0 M72.47,37.89 a0.72,0.72 0 1,0 1.44,0 a0.72,0.72 0 1,0 -1.44,0 M78.20,36.98 a0.72,0.72 0 1,0 1.44,0 a0.72,0.72 0 1,0 -1.44,0 M83.93,36.07 a0.72,0.72 0 1,0 1.44,0 a0.72,0.72 0 1,0 -1.44,0 M89.65,35.16 a0.72,0.72 0 1,0 1.44,0 a0.72,0.72 0 1,0 -1.44,0 M95.38,34.25 a0.72,0.72 0 1,0 1.44,0 a0.72,0.72 0 1,0 -1.44,0 M34.80,45.57 a0.72,0.72 0 1,0 1.44,0 a0.72,0.72 0 1,0 -1.44,0 M40.53,44.66 a0.72,0.72 0 1,0 1.44,0 a0.72,0.72 0 1,0 -1.44,0 M46.25,43.75 a0.72,0.72 0 1,0 1.44,0 a0.72,0.72 0 1,0 -1.44,0 M51.98,42.84 a0.72,0.72 0 1,0 1.44,0 a0.72,0.72 0 1,0 -1.44,0 M57.71,41.93 a0.72,0.72 0 1,0 1.44,0 a0.72,0.72 0 1,0 -1.44,0 M63.43,41.02 a0.72,0.72 0 1,0 1.44,0 a0.72,0.72 0 1,0 -1.44,0 M69.16,40.11 a0.72,0.72 0 1,0 1.44,0 a0.72,0.72 0 1,0 -1.44,0 M74.89,39.20 a0.72,0.72 0 1,0 1.44,0 a0.72,0.72 0 1,0 -1.44,0 M80.62,38.30 a0.72,0.72 0 1,0 1.44,0 a0.72,0.72 0 1,0 -1.44,0 M86.34,37.39 a0.72,0.72 0 1,0 1.44,0 a0.72,0.72 0 1,0 -1.44,0 M92.07,36.48 a0.72,0.72 0 1,0 1.44,0 a0.72,0.72 0 1,0 -1.44,0 M97.80,35.57 a0.72,0.72 0 1,0 1.44,0 a0.72,0.72 0 1,0 -1.44,0 M37.22,46.89 a0.72,0.72 0 1,0 1.44,0 a0.72,0.72 0 1,0 -1.44,0 M42.94,45.98 a0.72,0.72 0 1,0 1.44,0 a0.72,0.72 0 1,0 -1.44,0 M48.67,45.07 a0.72,0.72 0 1,0 1.44,0 a0.72,0.72 0 1,0 -1.44,0 M54.40,44.16 a0.72,0.72 0 1,0 1.44,0 a0.72,0.72 0 1,0 -1.44,0 M60.13,43.25 a0.72,0.72 0 1,0 1.44,0 a0.72,0.72 0 1,0 -1.44,0 M65.85,42.34 a0.72,0.72 0 1,0 1.44,0 a0.72,0.72 0 1,0 -1.44,0 M71.58,41.43 a0.72,0.72 0 1,0 1.44,0 a0.72,0.72 0 1,0 -1.44,0 M77.31,40.52 a0.72,0.72 0 1,0 1.44,0 a0.72,0.72 0 1,0 -1.44,0 M83.03,39.61 a0.72,0.72 0 1,0 1.44,0 a0.72,0.72 0 1,0 -1.44,0 M88.76,38.70 a0.72,0.72 0 1,0 1.44,0 a0.72,0.72 0 1,0 -1.44,0 M94.49,37.80 a0.72,0.72 0 1,0 1.44,0 a0.72,0.72 0 1,0 -1.44,0 M100.22,36.89 a0.72,0.72 0 1,0 1.44,0 a0.72,0.72 0 1,0 -1.44,0 M39.63,48.20 a0.72,0.72 0 1,0 1.44,0 a0.72,0.72 0 1,0 -1.44,0 M45.36,47.30 a0.72,0.72 0 1,0 1.44,0 a0.72,0.72 0 1,0 -1.44,0 M51.09,46.39 a0.72,0.72 0 1,0 1.44,0 a0.72,0.72 0 1,0 -1.44,0 M56.82,45.48 a0.72,0.72 0 1,0 1.44,0 a0.72,0.72 0 1,0 -1.44,0 M62.54,44.57 a0.72,0.72 0 1,0 1.44,0 a0.72,0.72 0 1,0 -1.44,0 M68.27,43.66 a0.72,0.72 0 1,0 1.44,0 a0.72,0.72 0 1,0 -1.44,0 M74.00,42.75 a0.72,0.72 0 1,0 1.44,0 a0.72,0.72 0 1,0 -1.44,0 M79.73,41.84 a0.72,0.72 0 1,0 1.44,0 a0.72,0.72 0 1,0 -1.44,0 M85.45,40.93 a0.72,0.72 0 1,0 1.44,0 a0.72,0.72 0 1,0 -1.44,0 M91.18,40.02 a0.72,0.72 0 1,0 1.44,0 a0.72,0.72 0 1,0 -1.44,0 M96.91,39.11 a0.72,0.72 0 1,0 1.44,0 a0.72,0.72 0 1,0 -1.44,0 M102.63,38.20 a0.72,0.72 0 1,0 1.44,0 a0.72,0.72 0 1,0 -1.44,0 M42.05,49.52 a0.72,0.72 0 1,0 1.44,0 a0.72,0.72 0 1,0 -1.44,0 M47.78,48.61 a0.72,0.72 0 1,0 1.44,0 a0.72,0.72 0 1,0 -1.44,0 M53.51,47.70 a0.72,0.72 0 1,0 1.44,0 a0.72,0.72 0 1,0 -1.44,0 M59.23,46.80 a0.72,0.72 0 1,0 1.44,0 a0.72,0.72 0 1,0 -1.44,0 M64.96,45.89 a0.72,0.72 0 1,0 1.44,0 a0.72,0.72 0 1,0 -1.44,0 M70.69,44.98 a0.72,0.72 0 1,0 1.44,0 a0.72,0.72 0 1,0 -1.44,0 M76.42,44.07 a0.72,0.72 0 1,0 1.44,0 a0.72,0.72 0 1,0 -1.44,0 M82.14,43.16 a0.72,0.72 0 1,0 1.44,0 a0.72,0.72 0 1,0 -1.44,0 M87.87,42.25 a0.72,0.72 0 1,0 1.44,0 a0.72,0.72 0 1,0 -1.44,0 M93.60,41.34 a0.72,0.72 0 1,0 1.44,0 a0.72,0.72 0 1,0 -1.44,0 M99.33,40.43 a0.72,0.72 0 1,0 1.44,0 a0.72,0.72 0 1,0 -1.44,0 M105.05,39.52 a0.72,0.72 0 1,0 1.44,0 a0.72,0.72 0 1,0 -1.44,0 M44.47,50.84 a0.72,0.72 0 1,0 1.44,0 a0.72,0.72 0 1,0 -1.44,0 M50.20,49.93 a0.72,0.72 0 1,0 1.44,0 a0.72,0.72 0 1,0 -1.44,0 M55.93,49.02 a0.72,0.72 0 1,0 1.44,0 a0.72,0.72 0 1,0 -1.44,0 M61.65,48.11 a0.72,0.72 0 1,0 1.44,0 a0.72,0.72 0 1,0 -1.44,0 M67.38,47.20 a0.72,0.72 0 1,0 1.44,0 a0.72,0.72 0 1,0 -1.44,0 M73.11,46.30 a0.72,0.72 0 1,0 1.44,0 a0.72,0.72 0 1,0 -1.44,0 M78.83,45.39 a0.72,0.72 0 1,0 1.44,0 a0.72,0.72 0 1,0 -1.44,0 M84.56,44.48 a0.72,0.72 0 1,0 1.44,0 a0.72,0.72 0 1,0 -1.44,0 M90.29,43.57 a0.72,0.72 0 1,0 1.44,0 a0.72,0.72 0 1,0 -1.44,0 M96.02,42.66 a0.72,0.72 0 1,0 1.44,0 a0.72,0.72 0 1,0 -1.44,0 M101.74,41.75 a0.72,0.72 0 1,0 1.44,0 a0.72,0.72 0 1,0 -1.44,0 M107.47,40.84 a0.72,0.72 0 1,0 1.44,0 a0.72,0.72 0 1,0 -1.44,0 M46.89,52.16 a0.72,0.72 0 1,0 1.44,0 a0.72,0.72 0 1,0 -1.44,0 M52.62,51.25 a0.72,0.72 0 1,0 1.44,0 a0.72,0.72 0 1,0 -1.44,0 M58.34,50.34 a0.72,0.72 0 1,0 1.44,0 a0.72,0.72 0 1,0 -1.44,0 M64.07,49.43 a0.72,0.72 0 1,0 1.44,0 a0.72,0.72 0 1,0 -1.44,0 M69.80,48.52 a0.72,0.72 0 1,0 1.44,0 a0.72,0.72 0 1,0 -1.44,0 M75.53,47.61 a0.72,0.72 0 1,0 1.44,0 a0.72,0.72 0 1,0 -1.44,0 M81.25,46.70 a0.72,0.72 0 1,0 1.44,0 a0.72,0.72 0 1,0 -1.44,0 M86.98,45.80 a0.72,0.72 0 1,0 1.44,0 a0.72,0.72 0 1,0 -1.44,0 M92.71,44.89 a0.72,0.72 0 1,0 1.44,0 a0.72,0.72 0 1,0 -1.44,0 M98.43,43.98 a0.72,0.72 0 1,0 1.44,0 a0.72,0.72 0 1,0 -1.44,0 M104.16,43.07 a0.72,0.72 0 1,0 1.44,0 a0.72,0.72 0 1,0 -1.44,0 M109.89,42.16 a0.72,0.72 0 1,0 1.44,0 a0.72,0.72 0 1,0 -1.44,0 M49.31,53.48 a0.72,0.72 0 1,0 1.44,0 a0.72,0.72 0 1,0 -1.44,0 M55.03,52.57 a0.72,0.72 0 1,0 1.44,0 a0.72,0.72 0 1,0 -1.44,0 M60.76,51.66 a0.72,0.72 0 1,0 1.44,0 a0.72,0.72 0 1,0 -1.44,0 M66.49,50.75 a0.72,0.72 0 1,0 1.44,0 a0.72,0.72 0 1,0 -1.44,0 M72.22,49.84 a0.72,0.72 0 1,0 1.44,0 a0.72,0.72 0 1,0 -1.44,0 M77.94,48.93 a0.72,0.72 0 1,0 1.44,0 a0.72,0.72 0 1,0 -1.44,0 M83.67,48.02 a0.72,0.72 0 1,0 1.44,0 a0.72,0.72 0 1,0 -1.44,0 M89.40,47.11 a0.72,0.72 0 1,0 1.44,0 a0.72,0.72 0 1,0 -1.44,0 M95.13,46.20 a0.72,0.72 0 1,0 1.44,0 a0.72,0.72 0 1,0 -1.44,0 M100.85,45.30 a0.72,0.72 0 1,0 1.44,0 a0.72,0.72 0 1,0 -1.44,0 M106.58,44.39 a0.72,0.72 0 1,0 1.44,0 a0.72,0.72 0 1,0 -1.44,0 M112.31,43.48 a0.72,0.72 0 1,0 1.44,0 a0.72,0.72 0 1,0 -1.44,0 M51.73,54.80 a0.72,0.72 0 1,0 1.44,0 a0.72,0.72 0 1,0 -1.44,0 M57.45,53.89 a0.72,0.72 0 1,0 1.44,0 a0.72,0.72 0 1,0 -1.44,0 M63.18,52.98 a0.72,0.72 0 1,0 1.44,0 a0.72,0.72 0 1,0 -1.44,0 M68.91,52.07 a0.72,0.72 0 1,0 1.44,0 a0.72,0.72 0 1,0 -1.44,0 M74.63,51.16 a0.72,0.72 0 1,0 1.44,0 a0.72,0.72 0 1,0 -1.44,0 M80.36,50.25 a0.72,0.72 0 1,0 1.44,0 a0.72,0.72 0 1,0 -1.44,0 M86.09,49.34 a0.72,0.72 0 1,0 1.44,0 a0.72,0.72 0 1,0 -1.44,0 M91.82,48.43 a0.72,0.72 0 1,0 1.44,0 a0.72,0.72 0 1,0 -1.44,0 M97.54,47.52 a0.72,0.72 0 1,0 1.44,0 a0.72,0.72 0 1,0 -1.44,0 M103.27,46.61 a0.72,0.72 0 1,0 1.44,0 a0.72,0.72 0 1,0 -1.44,0 M109.00,45.70 a0.72,0.72 0 1,0 1.44,0 a0.72,0.72 0 1,0 -1.44,0 M114.73,44.80 a0.72,0.72 0 1,0 1.44,0 a0.72,0.72 0 1,0 -1.44,0 M54.14,56.11 a0.72,0.72 0 1,0 1.44,0 a0.72,0.72 0 1,0 -1.44,0 M59.87,55.20 a0.72,0.72 0 1,0 1.44,0 a0.72,0.72 0 1,0 -1.44,0 M65.60,54.30 a0.72,0.72 0 1,0 1.44,0 a0.72,0.72 0 1,0 -1.44,0 M71.33,53.39 a0.72,0.72 0 1,0 1.44,0 a0.72,0.72 0 1,0 -1.44,0 M77.05,52.48 a0.72,0.72 0 1,0 1.44,0 a0.72,0.72 0 1,0 -1.44,0 M82.78,51.57 a0.72,0.72 0 1,0 1.44,0 a0.72,0.72 0 1,0 -1.44,0 M88.51,50.66 a0.72,0.72 0 1,0 1.44,0 a0.72,0.72 0 1,0 -1.44,0 M94.23,49.75 a0.72,0.72 0 1,0 1.44,0 a0.72,0.72 0 1,0 -1.44,0 M99.96,48.84 a0.72,0.72 0 1,0 1.44,0 a0.72,0.72 0 1,0 -1.44,0 M105.69,47.93 a0.72,0.72 0 1,0 1.44,0 a0.72,0.72 0 1,0 -1.44,0 M111.42,47.02 a0.72,0.72 0 1,0 1.44,0 a0.72,0.72 0 1,0 -1.44,0 M117.14,46.11 a0.72,0.72 0 1,0 1.44,0 a0.72,0.72 0 1,0 -1.44,0 M56.56,57.43 a0.72,0.72 0 1,0 1.44,0 a0.72,0.72 0 1,0 -1.44,0 M62.29,56.52 a0.72,0.72 0 1,0 1.44,0 a0.72,0.72 0 1,0 -1.44,0 M68.02,55.61 a0.72,0.72 0 1,0 1.44,0 a0.72,0.72 0 1,0 -1.44,0 M73.74,54.70 a0.72,0.72 0 1,0 1.44,0 a0.72,0.72 0 1,0 -1.44,0 M79.47,53.80 a0.72,0.72 0 1,0 1.44,0 a0.72,0.72 0 1,0 -1.44,0 M85.20,52.89 a0.72,0.72 0 1,0 1.44,0 a0.72,0.72 0 1,0 -1.44,0 M90.93,51.98 a0.72,0.72 0 1,0 1.44,0 a0.72,0.72 0 1,0 -1.44,0 M96.65,51.07 a0.72,0.72 0 1,0 1.44,0 a0.72,0.72 0 1,0 -1.44,0 M102.38,50.16 a0.72,0.72 0 1,0 1.44,0 a0.72,0.72 0 1,0 -1.44,0 M108.11,49.25 a0.72,0.72 0 1,0 1.44,0 a0.72,0.72 0 1,0 -1.44,0 M113.83,48.34 a0.72,0.72 0 1,0 1.44,0 a0.72,0.72 0 1,0 -1.44,0 M119.56,47.43 a0.72,0.72 0 1,0 1.44,0 a0.72,0.72 0 1,0 -1.44,0 M58.98,58.75 a0.72,0.72 0 1,0 1.44,0 a0.72,0.72 0 1,0 -1.44,0 M64.71,57.84 a0.72,0.72 0 1,0 1.44,0 a0.72,0.72 0 1,0 -1.44,0 M70.43,56.93 a0.72,0.72 0 1,0 1.44,0 a0.72,0.72 0 1,0 -1.44,0 M76.16,56.02 a0.72,0.72 0 1,0 1.44,0 a0.72,0.72 0 1,0 -1.44,0 M81.89,55.11 a0.72,0.72 0 1,0 1.44,0 a0.72,0.72 0 1,0 -1.44,0 M87.62,54.20 a0.72,0.72 0 1,0 1.44,0 a0.72,0.72 0 1,0 -1.44,0 M93.34,53.30 a0.72,0.72 0 1,0 1.44,0 a0.72,0.72 0 1,0 -1.44,0 M99.07,52.39 a0.72,0.72 0 1,0 1.44,0 a0.72,0.72 0 1,0 -1.44,0 M104.80,51.48 a0.72,0.72 0 1,0 1.44,0 a0.72,0.72 0 1,0 -1.44,0 M110.53,50.57 a0.72,0.72 0 1,0 1.44,0 a0.72,0.72 0 1,0 -1.44,0 M116.25,49.66 a0.72,0.72 0 1,0 1.44,0 a0.72,0.72 0 1,0 -1.44,0 M121.98,48.75 a0.72,0.72 0 1,0 1.44,0 a0.72,0.72 0 1,0 -1.44,0" fill="#1a36a8"/>
<defs><clipPath id="mosc"><polygon points="29.8,38.2 124.5,37.6 125.5,47.4 60,48.7 31,48.7"/></clipPath></defs>
<polygon points="29.8,38.2 124.5,37.6 125.5,47.4 60,48.7 31,48.7" fill="#f4f4ee"/>
<g clip-path="url(#mosc)">
<path d="M6.25,37.95 L22.25,49.10 M10.21,37.92 L26.21,49.05 M14.17,37.90 L30.17,49.00 M18.12,37.88 L34.12,48.95 M22.08,37.85 L38.08,48.90 M26.04,37.82 L42.04,48.85 M30.00,37.80 L46.00,48.80 M33.96,37.77 L49.71,48.75 M37.92,37.75 L53.42,48.70 M41.88,37.72 L57.12,48.65 M45.83,37.70 L60.83,48.60 M49.79,37.67 L64.54,48.55 M53.75,37.65 L68.25,48.50 M57.71,37.62 L71.96,48.45 M61.67,37.60 L75.67,48.40 M65.62,37.57 L79.38,48.35 M69.58,37.55 L83.08,48.30 M73.54,37.52 L86.79,48.25 M77.50,37.50 L90.50,48.20 M81.46,37.47 L94.21,48.15 M85.42,37.45 L97.92,48.10 M89.38,37.42 L101.62,48.05 M93.33,37.40 L105.33,48.00 M97.29,37.38 L109.04,47.95 M101.25,37.35 L112.75,47.90 M105.21,37.32 L116.46,47.85 M109.17,37.30 L120.17,47.80 M113.12,37.27 L123.88,47.75 M117.08,37.25 L127.58,47.70 M121.04,37.22 L131.29,47.65 M125.00,37.20 L135.00,47.60 M128.96,37.17 L138.71,47.55" stroke="#8c8c94" stroke-width="1.2" fill="none"/>
<path d="M6.25,37.95 L11.05,41.29 M17.45,45.75 L22.25,49.10 M10.21,37.92 L15.01,41.26 M21.41,45.71 L26.21,49.05 M14.17,37.90 L18.97,41.23 M25.37,45.67 L30.17,49.00 M18.12,37.88 L22.93,41.20 M29.32,45.63 L34.12,48.95 M22.08,37.85 L26.88,41.16 M33.28,45.58 L38.08,48.90 M26.04,37.82 L30.84,41.13 M37.24,45.54 L42.04,48.85 M30.00,37.80 L34.80,41.10 M41.20,45.50 L46.00,48.80 M33.96,37.77 L38.68,41.07 M44.98,45.46 L49.71,48.75 M37.92,37.75 L42.57,41.03 M48.77,45.41 L53.42,48.70 M41.88,37.72 L46.45,41.00 M52.55,45.37 L57.12,48.65 M45.83,37.70 L50.33,40.97 M56.33,45.33 L60.83,48.60 M49.79,37.67 L54.22,40.94 M60.12,45.29 L64.54,48.55 M53.75,37.65 L58.10,40.91 M63.90,45.24 L68.25,48.50 M57.71,37.62 L61.98,40.87 M67.68,45.20 L71.96,48.45 M61.67,37.60 L65.87,40.84 M71.47,45.16 L75.67,48.40 M65.62,37.57 L69.75,40.81 M75.25,45.12 L79.38,48.35 M69.58,37.55 L73.63,40.77 M79.03,45.07 L83.08,48.30 M73.54,37.52 L77.52,40.74 M82.82,45.03 L86.79,48.25 M77.50,37.50 L81.40,40.71 M86.60,44.99 L90.50,48.20 M81.46,37.47 L85.28,40.68 M90.38,44.95 L94.21,48.15 M85.42,37.45 L89.17,40.64 M94.17,44.90 L97.92,48.10 M89.38,37.42 L93.05,40.61 M97.95,44.86 L101.62,48.05 M93.33,37.40 L96.93,40.58 M101.73,44.82 L105.33,48.00 M97.29,37.38 L100.82,40.55 M105.52,44.78 L109.04,47.95 M101.25,37.35 L104.70,40.51 M109.30,44.73 L112.75,47.90 M105.21,37.32 L108.58,40.48 M113.08,44.69 L116.46,47.85 M109.17,37.30 L112.47,40.45 M116.87,44.65 L120.17,47.80 M113.12,37.27 L116.35,40.42 M120.65,44.61 L123.88,47.75 M117.08,37.25 L120.23,40.38 M124.43,44.56 L127.58,47.70 M121.04,37.22 L124.12,40.35 M128.22,44.52 L131.29,47.65 M125.00,37.20 L128.00,40.32 M132.00,44.48 L135.00,47.60 M128.96,37.17 L131.88,40.29 M135.78,44.44 L138.71,47.55" stroke="#e6d040" stroke-width="1.4" fill="none"/>
</g>
<polyline points="29.8,38.6 124.5,38.1" fill="none" stroke="#e6d23a" stroke-width="1.1"/>
<defs><linearGradient id="srcbar" x1="0" y1="0" x2="1" y2="0"><stop offset="0" stop-color="#e0e0e0"/><stop offset="0.4" stop-color="#a8a8a8"/><stop offset="1" stop-color="#8a8a8a"/></linearGradient></defs>
<rect x="28.8" y="32" width="42.2" height="5" rx="2.5" fill="url(#srcbar)"/>
<rect x="45" y="32.2" width="26" height="4.6" rx="2.3" fill="#737373"/>
<text x="57.2" y="35.9" font-size="4.4" text-anchor="middle" font-weight="bold" fill="#fff" >Source</text>
<rect x="71.5" y="32.6" width="53.5" height="4.6" rx="2.3" fill="#fbfbfb" stroke="#9a9a9a" stroke-width="0.7"/>
<rect x="110" y="32.9" width="14.5" height="4" rx="1.6" fill="#8a8a8a"/>
<text x="117.2" y="36.2" font-size="4.0" text-anchor="middle" font-weight="bold" fill="#fff" >Drain</text>
<polygon points="31.50,29.40 51.50,19.10 70.00,20.00 100.00,22.20 125.00,24.20 125.00,27.20" fill="#c4d4d8"/>
<path d="M32.00,29.39 L49.00,20.39 M35.70,29.30 L51.87,19.12 M39.40,29.21 L54.76,19.26 M43.10,29.13 L57.67,19.40 M46.80,29.04 L60.59,19.54 M50.50,28.95 L63.54,19.69 M54.20,28.87 L66.50,19.83 M57.90,28.78 L69.48,19.97 M61.60,28.69 L72.48,20.18 M65.30,28.60 L75.50,20.40 M69.00,28.52 L78.54,20.63 M72.70,28.43 L81.60,20.85 M76.40,28.34 L84.69,21.08 M80.10,28.26 L87.80,21.31 M83.80,28.17 L90.93,21.53 M87.50,28.08 L94.08,21.77 M91.20,28.00 L97.27,22.00 M94.90,27.91 L100.48,22.24 M98.60,27.82 L103.72,22.50 M102.30,27.73 L106.99,22.76 M106.00,27.65 L110.29,23.02 M109.70,27.56 L113.63,23.29 M113.40,27.47 L117.02,23.56 M117.10,27.39 L120.45,23.84 M120.80,27.30 L123.93,24.11" stroke="#2898ae" stroke-width="1.5" stroke-linecap="round" fill="none"/>
<g fill="#1a3aa8"><circle cx="49.00" cy="20.89" r="0.95"/><circle cx="51.87" cy="19.62" r="0.95"/><circle cx="54.76" cy="19.76" r="0.95"/><circle cx="57.67" cy="19.90" r="0.95"/><circle cx="60.59" cy="20.04" r="0.95"/><circle cx="63.54" cy="20.19" r="0.95"/><circle cx="66.50" cy="20.33" r="0.95"/><circle cx="69.48" cy="20.47" r="0.95"/><circle cx="72.48" cy="20.68" r="0.95"/><circle cx="75.50" cy="20.90" r="0.95"/><circle cx="78.54" cy="21.13" r="0.95"/><circle cx="81.60" cy="21.35" r="0.95"/><circle cx="84.69" cy="21.58" r="0.95"/><circle cx="87.80" cy="21.81" r="0.95"/><circle cx="90.93" cy="22.03" r="0.95"/><circle cx="94.08" cy="22.27" r="0.95"/><circle cx="97.27" cy="22.50" r="0.95"/><circle cx="100.48" cy="22.74" r="0.95"/><circle cx="103.72" cy="23.00" r="0.95"/><circle cx="106.99" cy="23.26" r="0.95"/><circle cx="110.29" cy="23.52" r="0.95"/><circle cx="113.63" cy="23.79" r="0.95"/><circle cx="117.02" cy="24.06" r="0.95"/><circle cx="120.45" cy="24.34" r="0.95"/><circle cx="123.93" cy="24.61" r="0.95"/></g>
<g fill="#2050b8" opacity="0.7"><circle cx="40.50" cy="24.89" r="0.7"/><circle cx="47.08" cy="24.24" r="0.7"/><circle cx="53.70" cy="24.29" r="0.7"/><circle cx="60.35" cy="24.35" r="0.7"/><circle cx="67.04" cy="24.44" r="0.7"/><circle cx="73.77" cy="24.57" r="0.7"/><circle cx="80.54" cy="24.71" r="0.7"/><circle cx="87.36" cy="24.85" r="0.7"/><circle cx="94.23" cy="25.00" r="0.7"/><circle cx="101.16" cy="25.16" r="0.7"/><circle cx="108.15" cy="25.34" r="0.7"/><circle cx="115.21" cy="25.52" r="0.7"/><circle cx="122.37" cy="25.71" r="0.7"/></g>
<polyline points="31.50,29.40 125.00,27.20" fill="none" stroke="#1d7d97" stroke-width="1.0"/>
<polygon points="31.50,22.20 51.50,11.90 70.00,12.80 100.00,15.00 125.00,17.00 125.00,20.00" fill="#c4d4d8"/>
<path d="M32.00,22.19 L49.00,13.19 M35.70,22.10 L51.87,11.92 M39.40,22.01 L54.76,12.06 M43.10,21.93 L57.67,12.20 M46.80,21.84 L60.59,12.34 M50.50,21.75 L63.54,12.49 M54.20,21.67 L66.50,12.63 M57.90,21.58 L69.48,12.77 M61.60,21.49 L72.48,12.98 M65.30,21.40 L75.50,13.20 M69.00,21.32 L78.54,13.43 M72.70,21.23 L81.60,13.65 M76.40,21.14 L84.69,13.88 M80.10,21.06 L87.80,14.11 M83.80,20.97 L90.93,14.33 M87.50,20.88 L94.08,14.57 M91.20,20.80 L97.27,14.80 M94.90,20.71 L100.48,15.04 M98.60,20.62 L103.72,15.30 M102.30,20.53 L106.99,15.56 M106.00,20.45 L110.29,15.82 M109.70,20.36 L113.63,16.09 M113.40,20.27 L117.02,16.36 M117.10,20.19 L120.45,16.64 M120.80,20.10 L123.93,16.91" stroke="#2898ae" stroke-width="1.5" stroke-linecap="round" fill="none"/>
<g fill="#1a3aa8"><circle cx="49.00" cy="13.69" r="0.95"/><circle cx="51.87" cy="12.42" r="0.95"/><circle cx="54.76" cy="12.56" r="0.95"/><circle cx="57.67" cy="12.70" r="0.95"/><circle cx="60.59" cy="12.84" r="0.95"/><circle cx="63.54" cy="12.99" r="0.95"/><circle cx="66.50" cy="13.13" r="0.95"/><circle cx="69.48" cy="13.27" r="0.95"/><circle cx="72.48" cy="13.48" r="0.95"/><circle cx="75.50" cy="13.70" r="0.95"/><circle cx="78.54" cy="13.93" r="0.95"/><circle cx="81.60" cy="14.15" r="0.95"/><circle cx="84.69" cy="14.38" r="0.95"/><circle cx="87.80" cy="14.61" r="0.95"/><circle cx="90.93" cy="14.83" r="0.95"/><circle cx="94.08" cy="15.07" r="0.95"/><circle cx="97.27" cy="15.30" r="0.95"/><circle cx="100.48" cy="15.54" r="0.95"/><circle cx="103.72" cy="15.80" r="0.95"/><circle cx="106.99" cy="16.06" r="0.95"/><circle cx="110.29" cy="16.32" r="0.95"/><circle cx="113.63" cy="16.59" r="0.95"/><circle cx="117.02" cy="16.86" r="0.95"/><circle cx="120.45" cy="17.14" r="0.95"/><circle cx="123.93" cy="17.41" r="0.95"/></g>
<g fill="#2050b8" opacity="0.7"><circle cx="40.50" cy="17.69" r="0.7"/><circle cx="47.08" cy="17.04" r="0.7"/><circle cx="53.70" cy="17.09" r="0.7"/><circle cx="60.35" cy="17.15" r="0.7"/><circle cx="67.04" cy="17.24" r="0.7"/><circle cx="73.77" cy="17.37" r="0.7"/><circle cx="80.54" cy="17.51" r="0.7"/><circle cx="87.36" cy="17.65" r="0.7"/><circle cx="94.23" cy="17.80" r="0.7"/><circle cx="101.16" cy="17.96" r="0.7"/><circle cx="108.15" cy="18.14" r="0.7"/><circle cx="115.21" cy="18.32" r="0.7"/><circle cx="122.37" cy="18.51" r="0.7"/></g>
<polyline points="31.50,22.20 125.00,20.00" fill="none" stroke="#1d7d97" stroke-width="1.0"/>
<text x="131.5" y="25" font-size="6.2" text-anchor="start" font-weight="bold" fill="#222" >h-BN<tspan font-size="3.6" dy="1.2">t</tspan></text>
<text x="131" y="45" font-size="6.2" text-anchor="start" font-weight="bold" fill="#222" >MoS<tspan font-size="3.6" dy="1.2">2</tspan></text>
<text x="131.4" y="64.2" font-size="6.2" text-anchor="start" font-weight="bold" fill="#222" >h-BN<tspan font-size="3.6" dy="1.2">b</tspan></text>
<text x="131.4" y="77" font-size="6.2" text-anchor="start" font-weight="bold" fill="#222" >Gr</text>
<defs><clipPath id="bclip"><rect x="175" y="17.2" width="90.8" height="78.2"/></clipPath><linearGradient id="srcg" x1="0" y1="0" x2="0" y2="1"><stop offset="0" stop-color="#e8a450"/><stop offset="0.5" stop-color="#f0b060"/><stop offset="1" stop-color="#d88c3c"/></linearGradient></defs>
<g clip-path="url(#bclip)">
<rect x="175" y="17" width="91" height="79" fill="#55537e"/>
<polygon points="177,21 186.5,21 184,38 187,47.8 189.5,52.9 197.1,67.3 176,66 176,40" fill="#6a6592"/>
<polygon points="175,17.2 187,17.2 186.6,21 177.5,21 177.5,36 175,37" fill="#c9ac6c"/>
<polygon points="177.5,23.5 185.5,24.2 185.2,32.2 177.5,31" fill="#c49a64"/>
<polygon points="187.2,17.2 236.3,17.2 245.2,25.4 252.8,33 260.5,44 263.6,53.2 265.3,62 266,62 266,82.5 250.6,75.6 240,75.3 200,68.6 197.1,67.3 189.5,52.9 187,47.8 184,38" fill="#78b09e"/>
<polygon points="186,22.5 220,29.1 246.5,34.3 249.2,35 249.2,66.7 251.5,76 226,71.5 197.1,67.3 189.5,52.9 187,47.8 186.1,46.1" fill="#7cb4a2"/>
<polygon points="185,24.6 209.2,30.1 215.2,33.1 217.3,36.5 217.3,57 208.7,57 208.7,38.9 207,38.2 185,32.7" fill="url(#srcg)"/>
<polygon points="223.9,38 227,36.2 230.6,38 230.8,50.3 247,56 266,62.3 266,83.5 255.5,79.6 251.5,69 238,60.6 223.6,56.8" fill="#e9a04e"/>
<polygon points="261,80 266,82.5 266,85 262,83" fill="#d8c0a0"/>
<polyline points="187.2,17.2 184,38 187,47.8 189.5,52.9 197.1,67.3 240,75.6 266,82.8" fill="none" stroke="#3a70c8" stroke-width="0.8"/>
<polyline points="236.3,17.2 245.2,25.4 252.8,33 260.5,44 263.6,53.2 265.3,62" fill="none" stroke="#3a72d0" stroke-width="0.8"/>
<polygon points="185.6,22 198,23.3 220,29.1 246.5,34.3 249.2,35 249.2,66.7 251.5,76 226,71.5 197,67 187,65.6 186.1,46.1" fill="none" stroke="#30a850" stroke-width="0.6"/>
<polygon points="209.3,71 236.3,76.2 234.6,95.5 227.8,95.5 227,78.5 209.3,76.9" fill="#f4d790"/>
<polyline points="197.1,67.3 240,75.6 266,82.8" fill="none" stroke="#3a70c8" stroke-width="0.7"/>
<polygon points="203.5,38.2 215,36.5 248,33.8 248.4,43.9 215,52.8 205,53 202,54.5" fill="none" stroke="#6a50c8" stroke-width="0.6" stroke-dasharray="2.2,0.8"/>
<line x1="210.2" y1="17.2" x2="205" y2="95.4" stroke="#fff" stroke-width="0.7" stroke-dasharray="1.8,1.2"/>
<line x1="239.5" y1="17.2" x2="234.6" y2="95.4" stroke="#fff" stroke-width="0.7" stroke-dasharray="1.8,1.2"/>
<rect x="178.5" y="91.9" width="15.8" height="1.4" fill="#fff"/>
</g>
<text x="197.7" y="33.2" font-size="5.3" text-anchor="middle" font-weight="bold" fill="#111" >Source</text>
<text x="221.2" y="27" font-size="5.3" text-anchor="start" font-weight="bold" fill="#fff" >h-BN<tspan font-size="3.2" dy="1">b</tspan></text>
<text x="180" y="44.4" font-size="5.3" text-anchor="start" font-weight="bold" fill="#fff" >MoS<tspan font-size="3.2" dy="1">2</tspan></text>
<line x1="195.5" y1="48.2" x2="202.5" y2="51.6" stroke="#fff" stroke-width="0.7"/><polygon points="204.5,52.6 200.6,52.6 202.2,50" fill="#fff"/>
<text x="217" y="67.8" font-size="5.3" text-anchor="start" font-weight="bold" fill="#fff" >h-BN<tspan font-size="3.2" dy="1">t</tspan></text>
<text x="237.5" y="64.2" font-size="5.3" text-anchor="start" font-weight="bold" fill="#111" >Drain</text>
<text x="212.6" y="77.4" font-size="5.3" text-anchor="start" font-weight="bold" fill="#111" >Gate</text>
<text x="211.6" y="91.9" font-size="5.3" text-anchor="start" font-weight="bold" fill="#fff" >Gr</text>
<rect x="304.9" y="18" width="98.90000000000003" height="79.5" fill="none" stroke="#bbb" stroke-width="0.6"/>
<text x="303.6" y="24.7" font-size="6.8" text-anchor="end" font-weight="normal" fill="#222" >10<tspan font-size="4.4" dy="-2.8">-5</tspan></text>
<text x="303.6" y="39.7" font-size="6.8" text-anchor="end" font-weight="normal" fill="#222" >10<tspan font-size="4.4" dy="-2.8">-7</tspan></text>
<text x="303.6" y="54.7" font-size="6.8" text-anchor="end" font-weight="normal" fill="#222" >10<tspan font-size="4.4" dy="-2.8">-9</tspan></text>
<text x="303.6" y="69.7" font-size="6.8" text-anchor="end" font-weight="normal" fill="#222" >10<tspan font-size="4.4" dy="-2.8">-11</tspan></text>
<text x="303.6" y="84.7" font-size="6.8" text-anchor="end" font-weight="normal" fill="#222" >10<tspan font-size="4.4" dy="-2.8">-13</tspan></text>
<text x="303.6" y="99.7" font-size="6.8" text-anchor="end" font-weight="normal" fill="#222" >10<tspan font-size="4.4" dy="-2.8">-15</tspan></text>
<defs><radialGradient id="bub1" cx="0.5" cy="0.5" r="0.5"><stop offset="0" stop-color="#fffbe6"/><stop offset="0.55" stop-color="#fff0b0"/><stop offset="0.75" stop-color="#ffd040"/><stop offset="0.9" stop-color="#f09a10"/><stop offset="1" stop-color="#c25c06" stop-opacity="0"/></radialGradient><linearGradient id="cbar" x1="0" y1="0" x2="1" y2="0"><stop offset="0" stop-color="#000"/><stop offset="0.25" stop-color="#6a1400"/><stop offset="0.55" stop-color="#d86a00"/><stop offset="0.8" stop-color="#ffc800"/><stop offset="1" stop-color="#fff8d0"/></linearGradient><clipPath id="afmclip"><rect x="338.5" y="39.1" width="58" height="45.8"/></clipPath></defs>
<g clip-path="url(#afmclip)">
<rect x="338.5" y="39.1" width="58" height="45.8" fill="#ba560a"/>
<ellipse cx="346.5" cy="46.5" rx="17" ry="8.3" transform="rotate(-48 346.5 46.5)" fill="url(#bub1)"/>
<circle cx="389" cy="59.3" r="9.5" fill="url(#bub1)"/>
</g>
<line x1="357.5" y1="39.1" x2="353.6" y2="84.9" stroke="#fff" stroke-width="0.8" stroke-dasharray="2.2,1.3"/>
<line x1="385.5" y1="39.1" x2="380.6" y2="84.9" stroke="#fff" stroke-width="0.8" stroke-dasharray="2.2,1.3"/>
<rect x="340" y="81.8" width="12.5" height="1.2" fill="#fff"/>
<text x="338.6" y="69.4" font-size="5.4" text-anchor="start" font-weight="bold" fill="#fff" >MoS<tspan font-size="3.4" dy="1">2</tspan></text>
<line x1="354" y1="68.4" x2="361" y2="68.4" stroke="#fff" stroke-width="0.7"/><polygon points="362.5,68.4 359.5,66.8 359.5,70" fill="#fff"/>
<text x="376.2" y="80" font-size="5.3" text-anchor="start" font-weight="bold" fill="#fff" >Bubbled</text>
<line x1="384" y1="74" x2="387" y2="67" stroke="#fff" stroke-width="0.7"/><polygon points="387.8,65.5 385.3,68 388.5,68.6" fill="#fff"/>
<rect x="337.7" y="85.7" width="58.6" height="4" fill="url(#cbar)"/>
<text x="339.3" y="95.6" font-size="5.2" text-anchor="middle" font-weight="normal" fill="#222" >0</text>
<text x="366" y="95.6" font-size="5.2" text-anchor="middle" font-weight="normal" fill="#222" >(nm)</text>
<text x="396" y="95.6" font-size="5.2" text-anchor="middle" font-weight="normal" fill="#222" >60</text>
<path d="M304.90,89.50 L305.12,89.53 L305.41,89.58 L305.76,89.63 L306.16,89.68 L306.57,89.70 L307.00,89.70 L307.45,89.66 L307.93,89.59 L308.44,89.51 L308.97,89.41 L309.49,89.32 L310.00,89.23 L310.51,89.16 L311.02,89.11 L311.53,89.05 L312.04,88.98 L312.53,88.89 L313.00,88.75 L313.45,88.57 L313.90,88.37 L314.32,88.14 L314.74,87.88 L315.13,87.60 L315.50,87.30 L315.84,87.03 L316.16,86.81 L316.46,86.56 L316.75,86.22 L317.03,85.72 L317.30,85.00 L317.57,84.01 L317.82,82.81 L318.07,81.45 L318.31,79.99 L318.55,78.49 L318.80,77.00 L319.05,75.50 L319.30,73.94 L319.55,72.34 L319.80,70.72 L320.05,69.10 L320.30,67.50 L320.55,65.90 L320.80,64.28 L321.06,62.66 L321.31,61.06 L321.56,59.50 L321.80,58.00 L322.04,56.56 L322.27,55.15 L322.51,53.78 L322.74,52.46 L322.97,51.20 L323.20,50.00 L323.43,48.86 L323.66,47.76 L323.89,46.72 L324.12,45.74 L324.36,44.83 L324.60,44.00 L324.85,43.26 L325.11,42.60 L325.38,42.02 L325.64,41.49 L325.92,40.98 L326.20,40.49 L326.48,40.02 L326.76,39.58 L327.04,39.17 L327.34,38.79 L327.66,38.43 L328.00,38.08 L328.36,37.76 L328.74,37.46 L329.14,37.19 L329.57,36.92 L330.02,36.65 L330.50,36.37 L331.02,36.08 L331.57,35.77 L332.16,35.47 L332.76,35.17 L333.38,34.88 L334.00,34.60 L334.60,34.34 L335.19,34.09 L335.78,33.85 L336.43,33.60 L337.15,33.36 L338.00,33.10 L338.96,32.83 L340.00,32.54 L341.12,32.25 L342.33,31.96 L343.62,31.67 L345.00,31.40 L346.49,31.14 L348.11,30.89 L349.81,30.64 L351.56,30.39 L353.30,30.15 L355.00,29.90 L356.61,29.65 L358.15,29.41 L359.69,29.18 L361.30,28.93 L363.04,28.67 L365.00,28.40 L367.11,28.11 L369.30,27.81 L371.64,27.51 L374.16,27.19 L376.93,26.85 L380.00,26.50 L383.73,26.10 L388.16,25.65 L392.84,25.18 L397.30,24.74 L401.11,24.37 L403.80,24.10" fill="none" stroke="#ff7f33" stroke-width="0.9"/>
<path d="M304.90,85.60 L305.12,85.62 L305.41,85.63 L305.76,85.66 L306.16,85.69 L306.57,85.74 L307.00,85.80 L307.45,85.89 L307.93,86.01 L308.44,86.14 L308.97,86.28 L309.49,86.40 L310.00,86.50 L310.51,86.57 L311.02,86.62 L311.53,86.66 L312.04,86.70 L312.53,86.74 L313.00,86.80 L313.45,86.90 L313.90,87.06 L314.32,87.21 L314.74,87.33 L315.13,87.38 L315.50,87.30 L315.84,87.14 L316.16,86.95 L316.46,86.68 L316.75,86.29 L317.03,85.75 L317.30,85.00 L317.57,84.01 L317.82,82.81 L318.07,81.45 L318.31,79.99 L318.55,78.49 L318.80,77.00 L319.05,75.50 L319.30,73.94 L319.55,72.34 L319.80,70.72 L320.05,69.10 L320.30,67.50 L320.55,65.90 L320.80,64.28 L321.06,62.66 L321.31,61.06 L321.56,59.50 L321.80,58.00 L322.04,56.56 L322.27,55.15 L322.51,53.78 L322.74,52.46 L322.97,51.20 L323.20,50.00 L323.43,48.87 L323.66,47.81 L323.89,46.80 L324.12,45.84 L324.36,44.91 L324.60,44.00 L324.85,43.12 L325.11,42.27 L325.38,41.46 L325.64,40.67 L325.92,39.92 L326.20,39.20 L326.48,38.51 L326.76,37.86 L327.04,37.24 L327.34,36.64 L327.66,36.06 L328.00,35.50 L328.36,34.95 L328.74,34.42 L329.14,33.91 L329.57,33.41 L330.02,32.95 L330.50,32.50 L331.02,32.08 L331.57,31.68 L332.16,31.31 L332.76,30.95 L333.38,30.62 L334.00,30.30 L334.60,30.01 L335.19,29.76 L335.78,29.52 L336.43,29.29 L337.15,29.05 L338.00,28.80 L338.96,28.53 L340.00,28.24 L341.12,27.95 L342.33,27.66 L343.62,27.37 L345.00,27.10 L346.49,26.84 L348.11,26.59 L349.81,26.34 L351.56,26.09 L353.30,25.85 L355.00,25.60 L356.61,25.35 L358.15,25.11 L359.69,24.88 L361.30,24.63 L363.04,24.37 L365.00,24.10 L367.11,23.81 L369.30,23.51 L371.64,23.21 L374.16,22.89 L376.93,22.55 L380.00,22.20 L383.73,21.80 L388.16,21.35 L392.84,20.88 L397.30,20.44 L401.11,20.07 L403.80,19.80" fill="none" stroke="#1a1aa8" stroke-width="0.9"/>
<path d="M304.90,87.60 L305.12,87.62 L305.41,87.66 L305.76,87.69 L306.16,87.73 L306.57,87.77 L307.00,87.80 L307.45,87.82 L307.93,87.85 L308.44,87.87 L308.97,87.89 L309.49,87.90 L310.00,87.90 L310.51,87.90 L311.02,87.90 L311.53,87.89 L312.04,87.87 L312.53,87.84 L313.00,87.80 L313.45,87.76 L313.90,87.73 L314.32,87.69 L314.74,87.61 L315.13,87.49 L315.50,87.30 L315.84,87.09 L316.16,86.88 L316.46,86.62 L316.75,86.26 L317.03,85.73 L317.30,85.00 L317.57,84.01 L317.82,82.81 L318.07,81.45 L318.31,79.99 L318.55,78.49 L318.80,77.00 L319.05,75.50 L319.30,73.94 L319.55,72.34 L319.80,70.72 L320.05,69.10 L320.30,67.50 L320.55,65.90 L320.80,64.28 L321.06,62.66 L321.31,61.06 L321.56,59.50 L321.80,58.00 L322.04,56.56 L322.27,55.15 L322.51,53.78 L322.74,52.46 L322.97,51.20 L323.20,50.00 L323.43,48.86 L323.66,47.78 L323.89,46.76 L324.12,45.79 L324.36,44.87 L324.60,44.00 L324.85,43.19 L325.11,42.44 L325.38,41.75 L325.64,41.09 L325.92,40.46 L326.20,39.86 L326.48,39.28 L326.76,38.74 L327.04,38.23 L327.34,37.74 L327.66,37.27 L328.00,36.82 L328.36,36.39 L328.74,35.97 L329.14,35.58 L329.57,35.21 L330.02,34.84 L330.50,34.48 L331.02,34.12 L331.57,33.78 L332.16,33.44 L332.76,33.11 L333.38,32.80 L334.00,32.50 L334.60,32.22 L335.19,31.97 L335.78,31.73 L336.43,31.50 L337.15,31.26 L338.00,31.00 L338.96,30.73 L340.00,30.44 L341.12,30.15 L342.33,29.86 L343.62,29.57 L345.00,29.30 L346.49,29.04 L348.11,28.79 L349.81,28.54 L351.56,28.29 L353.30,28.05 L355.00,27.80 L356.61,27.55 L358.15,27.31 L359.69,27.08 L361.30,26.83 L363.04,26.57 L365.00,26.30 L367.11,26.01 L369.30,25.71 L371.64,25.41 L374.16,25.09 L376.93,24.75 L380.00,24.40 L383.73,24.00 L388.16,23.55 L392.84,23.08 L397.30,22.64 L401.11,22.27 L403.80,22.00" fill="none" stroke="#2e9a3e" stroke-width="0.9"/>
<line x1="315.8" y1="73" x2="316.8" y2="64.5" stroke="#111" stroke-width="0.7"/><polygon points="317,62.5 315.4,65.5 318.2,65.8" fill="#111"/>
<line x1="322.6" y1="65" x2="321.8" y2="73" stroke="#111" stroke-width="0.7"/><polygon points="321.6,75 320.4,72 323.2,72.2" fill="#111"/>
<line x1="305.2" y1="22.6" x2="317.7" y2="22.6" stroke="#f89058" stroke-width="1.2"/>
<text x="318.9" y="24.8" font-size="6.0" text-anchor="start" font-weight="normal" fill="#222" >0.1 (V)</text>
<line x1="305.2" y1="29" x2="317.7" y2="29" stroke="#5aa860" stroke-width="1.2"/>
<text x="318.9" y="31.2" font-size="6.0" text-anchor="start" font-weight="normal" fill="#222" >0.2</text>
<line x1="305.2" y1="35.2" x2="317.7" y2="35.2" stroke="#8888d0" stroke-width="1.2"/>
<text x="318.9" y="37.4" font-size="6.0" text-anchor="start" font-weight="normal" fill="#222" >0.5</text>
<text x="331.6" y="105" font-size="6.6" text-anchor="middle" font-weight="normal" fill="#222" >0</text>
<text x="367.70000000000005" y="105" font-size="6.6" text-anchor="middle" font-weight="normal" fill="#222" >2</text>
<text x="403.8" y="105" font-size="6.6" text-anchor="middle" font-weight="normal" fill="#222" >4</text>
<text x="359" y="113.8" font-size="9" text-anchor="middle" font-weight="normal" fill="#222" >V<tspan font-size="4.5" dy="1.5">g</tspan><tspan dy="-1.5"> (V)</tspan></text>
<text x="285.4" y="68.2" font-size="8.4" text-anchor="start" font-weight="normal" fill="#222" transform="rotate(-90 285.4 68.2)">I<tspan font-size="5" dx="0.3" dy="2.6">ds</tspan><tspan dx="0.6" dy="-2.6">(A)</tspan></text>
<rect x="31.0" y="129.3" width="97.5" height="78.0" fill="none" stroke="#bbb" stroke-width="0.6"/>
<text x="28.8" y="131.60000000000002" font-size="6.8" text-anchor="end" font-weight="normal" fill="#222" >300</text>
<text x="28.8" y="147.20000000000002" font-size="6.8" text-anchor="end" font-weight="normal" fill="#222" >250</text>
<text x="28.8" y="162.9" font-size="6.8" text-anchor="end" font-weight="normal" fill="#222" >200</text>
<text x="28.8" y="178.5" font-size="6.8" text-anchor="end" font-weight="normal" fill="#222" >150</text>
<text x="28.8" y="194.20000000000002" font-size="6.8" text-anchor="end" font-weight="normal" fill="#222" >100</text>
<text x="28.8" y="209.8" font-size="6.8" text-anchor="end" font-weight="normal" fill="#222" >50</text>
<text x="130.5" y="131.4" font-size="6.8" text-anchor="start" font-weight="normal" fill="#222" >0.2</text>
<text x="130.5" y="170.4" font-size="6.8" text-anchor="start" font-weight="normal" fill="#222" >0.1</text>
<text x="130.5" y="209.3" font-size="6.8" text-anchor="start" font-weight="normal" fill="#222" >0.0</text>
<text x="35.9" y="216.2" font-size="6.5" text-anchor="middle" font-weight="normal" fill="#222" >10<tspan font-size="4.6" dy="-2.4">-14</tspan></text>
<text x="50.7" y="216.2" font-size="6.5" text-anchor="middle" font-weight="normal" fill="#222" >10<tspan font-size="4.6" dy="-2.4">-13</tspan></text>
<text x="65.5" y="216.2" font-size="6.5" text-anchor="middle" font-weight="normal" fill="#222" >10<tspan font-size="4.6" dy="-2.4">-12</tspan></text>
<text x="80.2" y="216.2" font-size="6.5" text-anchor="middle" font-weight="normal" fill="#222" >10<tspan font-size="4.6" dy="-2.4">-11</tspan></text>
<text x="95" y="216.2" font-size="6.5" text-anchor="middle" font-weight="normal" fill="#222" >10<tspan font-size="4.6" dy="-2.4">-10</tspan></text>
<text x="109.7" y="216.2" font-size="6.5" text-anchor="middle" font-weight="normal" fill="#222" >10<tspan font-size="4.6" dy="-2.4">-9</tspan></text>
<text x="124.5" y="216.2" font-size="6.5" text-anchor="middle" font-weight="normal" fill="#222" >10<tspan font-size="4.6" dy="-2.4">-8</tspan></text>
<line x1="31.5" y1="205.1" x2="128" y2="205.1" stroke="#f07070" stroke-width="0.9" stroke-dasharray="3.2,2.3"/>
<line x1="36.8" y1="201.5" x2="95.9" y2="201.3" stroke="#78c0f0" stroke-width="1.4"/>
<text x="34.3" y="200.0" font-size="6.4" text-anchor="start" font-weight="normal" fill="#222" >69 mV/dec</text>
<line x1="35.9" y1="148.6" x2="124.5" y2="148.6" stroke="#2e9a3e" stroke-width="0.7"/>
<polygon points="34.3,148.6 35.9,147 37.5,148.6 35.9,150.2" fill="#1a8a2a"/>
<polygon points="49.1,148.6 50.7,147 52.300000000000004,148.6 50.7,150.2" fill="#1a8a2a"/>
<polygon points="63.9,148.6 65.5,147 67.1,148.6 65.5,150.2" fill="#1a8a2a"/>
<polygon points="78.60000000000001,148.6 80.2,147 81.8,148.6 80.2,150.2" fill="#1a8a2a"/>
<polygon points="93.4,148.6 95,147 96.6,148.6 95,150.2" fill="#1a8a2a"/>
<polygon points="108.10000000000001,148.6 109.7,147 111.3,148.6 109.7,150.2" fill="#1a8a2a"/>
<polygon points="122.9,148.6 124.5,147 126.1,148.6 124.5,150.2" fill="#1a8a2a"/>
<path d="M37.20,204.00 L52.20,203.30 L76.30,200.00 L96.00,196.30 L113.10,187.70 L125.80,172.30" fill="none" stroke="#4a4ac0" stroke-width="0.7"/>
<polygon points="35.6,204 37.2,202.4 38.800000000000004,204 37.2,205.6" fill="#0a0a80"/>
<polygon points="50.6,203.3 52.2,201.70000000000002 53.800000000000004,203.3 52.2,204.9" fill="#0a0a80"/>
<polygon points="74.7,200 76.3,198.4 77.89999999999999,200 76.3,201.6" fill="#0a0a80"/>
<polygon points="94.4,196.3 96,194.70000000000002 97.6,196.3 96,197.9" fill="#0a0a80"/>
<polygon points="111.5,187.7 113.1,186.1 114.69999999999999,187.7 113.1,189.29999999999998" fill="#0a0a80"/>
<polygon points="124.2,172.3 125.8,170.70000000000002 127.39999999999999,172.3 125.8,173.9" fill="#0a0a80"/>
<ellipse cx="106.9" cy="148" rx="7.9" ry="5.7" fill="none" stroke="#222" stroke-width="0.6"/>
<path d="M104.3,142.5 L124,142.5" stroke="#111" stroke-width="0.7" fill="none"/><polygon points="126.6,142.5 123,140.9 123,144.1" fill="#111"/>
<ellipse cx="110.9" cy="187" rx="8.1" ry="5.6" fill="none" stroke="#222" stroke-width="0.6"/>
<path d="M111.4,181.4 L98.5,181.4" stroke="#111" stroke-width="0.7" fill="none"/><polygon points="96,181.4 99.4,179.8 99.4,183" fill="#111"/>
<line x1="65.1" y1="169.8" x2="80.5" y2="169.8" stroke="#c0c4e8" stroke-width="1.6"/><polygon points="71.2,169.8 72.8,168.2 74.4,169.8 72.8,171.4" fill="#0a0a80"/>
<text x="82.6" y="171.9" font-size="7" text-anchor="start" font-weight="normal" fill="#222" >SS</text>
<line x1="65.5" y1="178.4" x2="80" y2="178.4" stroke="#2e9a3e" stroke-width="0.7"/><polygon points="71.4,178.4 72.8,177 74.2,178.4 72.8,179.8" fill="#1a8a2a"/>
<text x="84" y="180.6" font-size="7" text-anchor="start" font-weight="normal" fill="#222" >ΔV</text>
<text x="13.3" y="168.1" font-size="8.1" text-anchor="middle" font-weight="normal" fill="#222" transform="rotate(-90 13.3 168.1)">SS (mV/dec)</text>
<text x="72.0" y="227.6" font-size="8.4" text-anchor="start" font-weight="normal" fill="#222" >I<tspan font-size="5" dx="0.3" dy="2.6">ds</tspan><tspan dx="1.8" dy="-2.6">(A)</tspan></text>
<rect x="175.4" y="129.4" width="98.99999999999997" height="79.0" fill="none" stroke="#bbb" stroke-width="0.6"/>
<text x="174.2" y="130.8" font-size="6.8" text-anchor="end" font-weight="normal" fill="#222" >0.8</text>
<text x="174.2" y="177.9" font-size="6.8" text-anchor="end" font-weight="normal" fill="#222" >0.7</text>
<defs><linearGradient id="eimg" x1="0" y1="0" x2="1" y2="0.15"><stop offset="0" stop-color="#8a6cc4"/><stop offset="0.12" stop-color="#6a7ad0"/><stop offset="0.35" stop-color="#4a7ed2"/><stop offset="1" stop-color="#3c6cc8"/></linearGradient><radialGradient id="eglow" cx="0.3" cy="0.5" r="0.45"><stop offset="0" stop-color="#78a8e8" stop-opacity="0.45"/><stop offset="1" stop-color="#7aa0e8" stop-opacity="0"/></radialGradient></defs>
<rect x="176.1" y="130.4" width="50.6" height="35.5" fill="url(#eimg)"/>
<rect x="176.1" y="130.4" width="50.6" height="35.5" fill="url(#eglow)"/>
<text x="203.4" y="138.5" font-size="6" text-anchor="middle" font-weight="bold" fill="#fff" >Bubbled</text>
<circle cx="189.9" cy="145.1" r="1.7" fill="#1a8a2a" stroke="#fff" stroke-width="0.6"/>
<circle cx="189.2" cy="159.2" r="1.7" fill="#101080" stroke="#fff" stroke-width="0.6"/>
<text x="195.5" y="162.8" font-size="6" text-anchor="start" font-weight="bold" fill="#fff" >Flat</text>
<rect x="213.8" y="161.4" width="12.7" height="1.3" fill="#fff"/>
<line x1="235" y1="137.7" x2="248.2" y2="137.7" stroke="#c8c8e8" stroke-width="1.3"/>
<text x="250.6" y="140" font-size="6.2" text-anchor="start" font-weight="normal" fill="#222" >Flat</text>
<line x1="235" y1="145.6" x2="248.2" y2="145.6" stroke="#4a9a4a" stroke-width="0.7"/>
<text x="250.6" y="147.9" font-size="6.2" text-anchor="start" font-weight="normal" fill="#222" >Bubbled</text>
<path d="M175.40,176.00 L175.85,175.91 L176.30,175.80 L176.76,175.68 L177.21,175.55 L177.66,175.43 L178.11,175.31 L178.56,175.22 L179.02,175.14 L179.47,175.09 L179.92,175.07 L180.37,175.09 L180.82,175.13 L181.28,175.20 L181.73,175.29 L182.18,175.40 L182.63,175.52 L183.08,175.64 L183.54,175.75 L183.99,175.86 L184.44,175.94 L184.89,176.00 L185.35,176.03 L185.80,176.04 L186.25,176.01 L186.70,175.95 L187.15,175.87 L187.61,175.76 L188.06,175.64 L188.51,175.52 L188.96,175.39 L189.41,175.27 L189.87,175.17 L190.32,175.08 L190.77,175.02 L191.22,174.99 L191.67,174.99 L192.13,175.02 L192.58,175.07 L193.03,175.13 L193.48,175.22 L193.93,175.31 L194.39,175.39 L194.84,175.46 L195.29,175.50 L195.74,175.51 L196.19,175.48 L196.65,175.40 L197.10,175.27 L197.55,175.08 L198.00,174.82 L198.45,174.51 L198.91,174.15 L199.36,173.73 L199.81,173.28 L200.26,172.80 L200.72,172.30 L201.17,171.79 L201.62,171.29 L202.07,170.82 L202.52,170.38 L202.98,169.99 L203.43,169.67 L203.88,169.41 L204.33,169.22 L204.78,169.12 L205.24,169.09 L205.69,169.14 L206.14,169.26 L206.59,169.45 L207.04,169.69 L207.50,169.97 L207.95,170.29 L208.40,170.62 L208.85,170.97 L209.30,171.31 L209.76,171.64 L210.21,171.96 L210.66,172.26 L211.11,172.53 L211.56,172.79 L212.02,173.02 L212.47,173.23 L212.92,173.44 L213.37,173.63 L213.82,173.82 L214.28,174.01 L214.73,174.19 L215.18,174.38 L215.63,174.58 L216.08,174.77 L216.54,174.96 L216.99,175.14 L217.44,175.31 L217.89,175.46 L218.35,175.59 L218.80,175.69 L219.25,175.76 L219.70,175.80 L220.15,175.81 L220.61,175.78 L221.06,175.72 L221.51,175.64 L221.96,175.53 L222.41,175.41 L222.87,175.29 L223.32,175.16 L223.77,175.05 L224.22,174.95 L224.67,174.87 L225.13,174.82 L225.58,174.80 L226.03,174.81 L226.48,174.85 L226.93,174.91 L227.39,175.00 L227.84,175.11 L228.29,175.23 L228.74,175.35 L229.19,175.47 L229.65,175.57 L230.10,175.66 L230.55,175.72 L231.00,175.75 L231.45,175.75 L231.91,175.73 L232.36,175.67 L232.81,175.58 L233.26,175.47 L233.72,175.35 L234.17,175.21 L234.62,175.08 L235.07,174.94 L235.52,174.82 L235.98,174.72 L236.43,174.63 L236.88,174.57 L237.33,174.53 L237.78,174.52 L238.24,174.53 L238.69,174.55 L239.14,174.57 L239.59,174.60 L240.04,174.62 L240.50,174.62 L240.95,174.59 L241.40,174.52 L241.85,174.42 L242.30,174.26 L242.76,174.05 L243.21,173.78 L243.66,173.45 L244.11,173.07 L244.56,172.64 L245.02,172.17 L245.47,171.66 L245.92,171.12 L246.37,170.57 L246.82,170.00 L247.28,169.43 L247.73,168.88 L248.18,168.33 L248.63,167.82 L249.08,167.33 L249.54,166.87 L249.99,166.45 L250.44,166.06 L250.89,165.71 L251.35,165.40 L251.80,165.12 L252.25,164.87 L252.70,164.65 L253.15,164.46 L253.61,164.30 L254.06,164.16 L254.51,164.05 L254.96,163.98 L255.41,163.94 L255.87,163.93 L256.32,163.97 L256.77,164.05 L257.22,164.18 L257.67,164.37 L258.13,164.61 L258.58,164.91 L259.03,165.26 L259.48,165.68 L259.93,166.14 L260.39,166.65 L260.84,167.21 L261.29,167.79 L261.74,168.40 L262.19,169.01 L262.65,169.63 L263.10,170.23 L263.55,170.80 L264.00,171.34 L264.45,171.84 L264.91,172.29 L265.36,172.68 L265.81,173.02 L266.26,173.29 L266.72,173.52 L267.17,173.69 L267.62,173.81 L268.07,173.89 L268.52,173.95 L268.98,173.99 L269.43,174.01 L269.88,174.03 L270.33,174.06 L270.78,174.10 L271.24,174.15 L271.69,174.22 L272.14,174.32 L272.59,174.43 L273.04,174.55 L273.50,174.69 L273.95,174.84 L274.40,174.98" fill="none" stroke="#50a050" stroke-width="0.7"/>
<path d="M175.40,204.35 L175.85,204.25 L176.30,204.13 L176.76,203.99 L177.21,203.85 L177.66,203.73 L178.11,203.64 L178.56,203.60 L179.02,203.61 L179.47,203.68 L179.92,203.78 L180.37,203.91 L180.82,204.06 L181.28,204.19 L181.73,204.31 L182.18,204.38 L182.63,204.40 L183.08,204.37 L183.54,204.29 L183.99,204.18 L184.44,204.04 L184.89,203.90 L185.35,203.77 L185.80,203.67 L186.25,203.61 L186.70,203.60 L187.15,203.65 L187.61,203.74 L188.06,203.86 L188.51,204.00 L188.96,204.15 L189.41,204.27 L189.87,204.35 L190.32,204.40 L190.77,204.38 L191.22,204.32 L191.67,204.22 L192.13,204.08 L192.58,203.93 L193.03,203.79 L193.48,203.66 L193.93,203.57 L194.39,203.51 L194.84,203.50 L195.29,203.52 L195.74,203.56 L196.19,203.60 L196.65,203.62 L197.10,203.59 L197.55,203.48 L198.00,203.27 L198.45,202.94 L198.91,202.49 L199.36,201.90 L199.81,201.18 L200.26,200.35 L200.72,199.40 L201.17,198.37 L201.62,197.27 L202.07,196.12 L202.52,194.94 L202.98,193.75 L203.43,192.57 L203.88,191.42 L204.33,190.30 L204.78,189.25 L205.24,188.28 L205.69,187.40 L206.14,186.66 L206.59,186.06 L207.04,185.63 L207.50,185.39 L207.95,185.38 L208.40,185.58 L208.85,186.03 L209.30,186.70 L209.76,187.58 L210.21,188.65 L210.66,189.88 L211.11,191.22 L211.56,192.63 L212.02,194.05 L212.47,195.44 L212.92,196.75 L213.37,197.95 L213.82,199.01 L214.28,199.92 L214.73,200.66 L215.18,201.26 L215.63,201.73 L216.08,202.09 L216.54,202.36 L216.99,202.58 L217.44,202.77 L217.89,202.95 L218.35,203.14 L218.80,203.33 L219.25,203.54 L219.70,203.74 L220.15,203.93 L220.61,204.10 L221.06,204.23 L221.51,204.30 L221.96,204.32 L222.41,204.28 L222.87,204.19 L223.32,204.05 L223.77,203.89 L224.22,203.72 L224.67,203.56 L225.13,203.42 L225.58,203.32 L226.03,203.26 L226.48,203.25 L226.93,203.27 L227.39,203.31 L227.84,203.36 L228.29,203.40 L228.74,203.41 L229.19,203.37 L229.65,203.28 L230.10,203.13 L230.55,202.92 L231.00,202.67 L231.45,202.40 L231.91,202.11 L232.36,201.84 L232.81,201.59 L233.26,201.40 L233.72,201.26 L234.17,201.18 L234.62,201.17 L235.07,201.20 L235.52,201.26 L235.98,201.34 L236.43,201.41 L236.88,201.46 L237.33,201.47 L237.78,201.43 L238.24,201.34 L238.69,201.19 L239.14,201.00 L239.59,200.78 L240.04,200.53 L240.50,200.26 L240.95,200.00 L241.40,199.75 L241.85,199.50 L242.30,199.24 L242.76,198.97 L243.21,198.67 L243.66,198.31 L244.11,197.88 L244.56,197.36 L245.02,196.74 L245.47,195.99 L245.92,195.14 L246.37,194.17 L246.82,193.12 L247.28,191.99 L247.73,190.82 L248.18,189.63 L248.63,188.45 L249.08,187.30 L249.54,186.21 L249.99,185.17 L250.44,184.21 L250.89,183.32 L251.35,182.50 L251.80,181.75 L252.25,181.05 L252.70,180.40 L253.15,179.81 L253.61,179.28 L254.06,178.81 L254.51,178.42 L254.96,178.13 L255.41,177.95 L255.87,177.91 L256.32,178.03 L256.77,178.30 L257.22,178.75 L257.67,179.35 L258.13,180.12 L258.58,181.01 L259.03,182.01 L259.48,183.09 L259.93,184.22 L260.39,185.37 L260.84,186.51 L261.29,187.62 L261.74,188.69 L262.19,189.71 L262.65,190.69 L263.10,191.63 L263.55,192.54 L264.00,193.42 L264.45,194.30 L264.91,195.18 L265.36,196.05 L265.81,196.92 L266.26,197.77 L266.72,198.60 L267.17,199.38 L267.62,200.10 L268.07,200.74 L268.52,201.30 L268.98,201.75 L269.43,202.10 L269.88,202.36 L270.33,202.54 L270.78,202.66 L271.24,202.74 L271.69,202.80 L272.14,202.86 L272.59,202.94 L273.04,203.04 L273.50,203.18 L273.95,203.35 L274.40,203.54" fill="none" stroke="#5a5aaa" stroke-width="0.7"/>
<line x1="205.9" y1="168" x2="205.9" y2="208.4" stroke="#50a050" stroke-width="0.6" stroke-dasharray="1.3,1"/>
<line x1="207.6" y1="168" x2="207.6" y2="208.4" stroke="#4040b0" stroke-width="0.6" stroke-dasharray="1.3,1"/>
<line x1="254.3" y1="168" x2="254.3" y2="208.4" stroke="#50a050" stroke-width="0.6" stroke-dasharray="1.3,1"/>
<line x1="255.9" y1="168" x2="255.9" y2="208.4" stroke="#4040b0" stroke-width="0.6" stroke-dasharray="1.3,1"/>
<rect x="204.5" y="175.4" width="4.2" height="4.4" rx="0.8" fill="#f07020"/>
<polygon points="254.7,169.6 257,172.7 254.7,175.8 252.4,172.7" fill="#f07020"/>
<rect x="252.6" y="170.6" width="4.2" height="4.2" fill="#f07020"/>
<text x="187.9" y="189.5" font-size="7.3" text-anchor="start" font-weight="normal" fill="#222" >E<tspan font-size="4.8" dx="0.6" dy="-2.8">1</tspan><tspan font-size="4.8" dx="-0.4" dy="5.2">2g</tspan></text>
<text x="237.3" y="183.4" font-size="7.6" text-anchor="start" font-weight="normal" fill="#222" >A<tspan font-size="5" dy="1.8">1g</tspan></text>
<text x="198.4" y="216.2" font-size="6.8" text-anchor="middle" font-weight="normal" fill="#222" >380</text>
<text x="222.4" y="216.2" font-size="6.8" text-anchor="middle" font-weight="normal" fill="#222" >390</text>
<text x="246.4" y="216.2" font-size="6.8" text-anchor="middle" font-weight="normal" fill="#222" >400</text>
<text x="270.4" y="216.2" font-size="6.8" text-anchor="middle" font-weight="normal" fill="#222" >410</text>
<text x="225.3" y="224.6" font-size="9" text-anchor="middle" font-weight="normal" fill="#222" >Raman shift (cm<tspan font-size="4.5" dy="-3">-1</tspan><tspan dy="3">)</tspan></text>
<text x="150.8" y="162.7" font-size="7.6" text-anchor="middle" font-weight="normal" fill="#222" transform="rotate(-90 150.8 162.7)">ΔV/V<tspan font-size="4.6" dy="1.6">g</tspan><tspan dy="-1.6"> (%)</tspan></text>
<text x="160.6" y="176.5" font-size="9.6" text-anchor="middle" font-weight="normal" fill="#222" transform="rotate(-90 160.6 176.5)">Intensity (a.u)</text>
<rect x="306.2" y="129.5" width="98.10000000000002" height="78.9" fill="none" stroke="#bbb" stroke-width="0.6"/>
<text x="303" y="132.10000000000002" font-size="6.8" text-anchor="end" font-weight="normal" fill="#222" >2.0</text>
<text x="303" y="154.5" font-size="6.8" text-anchor="end" font-weight="normal" fill="#222" >1.6</text>
<text x="303" y="176.70000000000002" font-size="6.8" text-anchor="end" font-weight="normal" fill="#222" >1.2</text>
<text x="303" y="198.8" font-size="6.8" text-anchor="end" font-weight="normal" fill="#222" >0.8</text>
<text x="324.8" y="217.3" font-size="6.8" text-anchor="middle" font-weight="normal" fill="#222" >1.8</text>
<text x="351.5" y="217.3" font-size="6.8" text-anchor="middle" font-weight="normal" fill="#222" >1.9</text>
<text x="378.1" y="217.3" font-size="6.8" text-anchor="middle" font-weight="normal" fill="#222" >2.0</text>
<text x="404.3" y="217.3" font-size="6.8" text-anchor="middle" font-weight="normal" fill="#222" >2.1</text>
<text x="355.3" y="225.5" font-size="9" text-anchor="middle" font-weight="normal" fill="#222" >Energy (eV)</text>
<text x="290.6" y="177.3" font-size="9.6" text-anchor="middle" font-weight="normal" fill="#222" transform="rotate(-90 290.6 177.3)">Intensity (a.u)</text>
<line x1="308" y1="138.7" x2="320" y2="138.7" stroke="#6a6ab8" stroke-width="0.7"/>
<text x="322.2" y="141" font-size="6.5" text-anchor="start" font-weight="normal" fill="#222" >Flat</text>
<line x1="308" y1="145.7" x2="320" y2="145.7" stroke="#50a050" stroke-width="0.7"/>
<text x="322.2" y="148" font-size="6.5" text-anchor="start" font-weight="normal" fill="#222" >Bubbled</text>
<path d="M306.30,198.10 L306.82,197.76 L307.50,197.36 L308.32,196.89 L309.23,196.34 L310.19,195.69 L311.18,194.92 L312.17,194.03 L313.10,193.00 L314.01,191.79 L314.94,190.41 L315.89,188.88 L316.85,187.25 L317.81,185.55 L318.78,183.82 L319.74,182.09 L320.70,180.40 L321.67,178.67 L322.66,176.84 L323.66,174.94 L324.66,173.05 L325.63,171.21 L326.58,169.46 L327.47,167.88 L328.30,166.50 L329.07,165.32 L329.78,164.30 L330.45,163.40 L331.09,162.62 L331.69,161.94 L332.27,161.34 L332.84,160.80 L333.40,160.30 L333.94,159.87 L334.45,159.52 L334.94,159.26 L335.41,159.07 L335.87,158.94 L336.32,158.85 L336.76,158.81 L337.20,158.80 L337.64,158.82 L338.06,158.88 L338.47,158.99 L338.88,159.15 L339.28,159.36 L339.68,159.62 L340.09,159.93 L340.50,160.30 L340.92,160.72 L341.33,161.19 L341.75,161.70 L342.17,162.28 L342.59,162.91 L343.02,163.60 L343.46,164.36 L343.90,165.20 L344.36,166.15 L344.82,167.22 L345.30,168.38 L345.77,169.60 L346.26,170.83 L346.74,172.05 L347.22,173.22 L347.70,174.30 L348.16,175.31 L348.59,176.28 L349.02,177.23 L349.44,178.15 L349.89,179.04 L350.37,179.92 L350.91,180.77 L351.50,181.60 L352.16,182.43 L352.87,183.25 L353.62,184.06 L354.41,184.85 L355.23,185.60 L356.08,186.30 L356.93,186.93 L357.80,187.50 L358.71,187.99 L359.68,188.41 L360.69,188.77 L361.71,189.09 L362.71,189.36 L363.68,189.60 L364.58,189.81 L365.40,190.00 L366.11,190.16 L366.72,190.26 L367.27,190.33 L367.78,190.37 L368.28,190.39 L368.80,190.41 L369.36,190.45 L370.00,190.50 L370.71,190.56 L371.45,190.60 L372.23,190.63 L373.04,190.68 L373.86,190.73 L374.68,190.81 L375.50,190.93 L376.30,191.10 L377.08,191.32 L377.85,191.58 L378.60,191.89 L379.37,192.21 L380.15,192.56 L380.96,192.91 L381.80,193.26 L382.70,193.60 L383.62,193.92 L384.55,194.24 L385.50,194.56 L386.48,194.88 L387.52,195.22 L388.62,195.58 L389.81,195.97 L391.10,196.40 L392.60,196.90 L394.35,197.49 L396.24,198.13 L398.18,198.78 L400.04,199.40 L401.74,199.97 L403.16,200.45 L404.20,200.80" fill="none" stroke="#5a5ab0" stroke-width="0.8"/>
<path d="M306.30,201.90 L306.82,201.62 L307.50,201.26 L308.32,200.83 L309.23,200.35 L310.19,199.82 L311.18,199.27 L312.17,198.69 L313.10,198.10 L314.01,197.49 L314.94,196.83 L315.89,196.13 L316.85,195.41 L317.81,194.68 L318.78,193.94 L319.74,193.21 L320.70,192.50 L321.66,191.78 L322.63,191.02 L323.61,190.24 L324.58,189.47 L325.55,188.74 L326.49,188.05 L327.41,187.43 L328.30,186.90 L329.16,186.45 L329.99,186.06 L330.80,185.73 L331.59,185.45 L332.36,185.23 L333.12,185.06 L333.86,184.95 L334.60,184.90 L335.30,184.90 L335.96,184.96 L336.59,185.08 L337.21,185.26 L337.85,185.49 L338.51,185.77 L339.22,186.11 L340.00,186.50 L340.84,186.97 L341.71,187.54 L342.61,188.18 L343.56,188.86 L344.54,189.57 L345.55,190.28 L346.61,190.96 L347.70,191.60 L348.85,192.22 L350.06,192.85 L351.31,193.48 L352.60,194.10 L353.91,194.69 L355.22,195.25 L356.52,195.76 L357.80,196.20 L359.08,196.58 L360.40,196.90 L361.72,197.18 L363.04,197.41 L364.33,197.62 L365.59,197.79 L366.78,197.95 L367.90,198.10 L368.94,198.22 L369.92,198.31 L370.85,198.37 L371.74,198.41 L372.59,198.44 L373.41,198.46 L374.21,198.47 L375.00,198.50 L375.73,198.51 L376.37,198.49 L376.96,198.45 L377.53,198.41 L378.13,198.39 L378.80,198.41 L379.58,198.47 L380.50,198.60 L381.56,198.80 L382.73,199.07 L383.99,199.39 L385.32,199.74 L386.72,200.11 L388.15,200.48 L389.62,200.85 L391.10,201.20 L392.71,201.55 L394.51,201.93 L396.41,202.32 L398.31,202.71 L400.14,203.08 L401.79,203.41 L403.17,203.69 L404.20,203.90" fill="none" stroke="#50a050" stroke-width="0.8"/>
<text x="337.3" y="182" font-size="8" text-anchor="middle" font-weight="normal" fill="#222" >A</text>
<text x="376.3" y="188" font-size="8" text-anchor="middle" font-weight="normal" fill="#222" >B</text>
<rect x="353" y="133.5" width="46.4" height="36" fill="#fff" stroke="#bbb" stroke-width="0.6"/>
<path d="M353.00,159.40 L353.69,158.76 L354.59,157.90 L355.66,156.89 L356.86,155.76 L358.13,154.56 L359.45,153.33 L360.75,152.13 L362.00,151.00 L363.27,149.86 L364.63,148.65 L366.04,147.39 L367.46,146.14 L368.84,144.95 L370.14,143.84 L371.31,142.88 L372.30,142.10 L373.10,141.51 L373.74,141.09 L374.26,140.79 L374.69,140.59 L375.07,140.47 L375.44,140.38 L375.84,140.30 L376.30,140.20 L376.80,140.09 L377.31,139.99 L377.81,139.92 L378.31,139.88 L378.82,139.87 L379.34,139.92 L379.86,140.03 L380.40,140.20 L380.93,140.43 L381.46,140.72 L381.98,141.06 L382.52,141.44 L383.08,141.88 L383.67,142.37 L384.31,142.91 L385.00,143.50 L385.76,144.15 L386.57,144.88 L387.42,145.67 L388.31,146.50 L389.23,147.36 L390.15,148.24 L391.08,149.13 L392.00,150.00 L392.97,150.92 L394.04,151.94 L395.14,153.00 L396.24,154.06 L397.28,155.06 L398.22,155.97 L399.01,156.73 L399.60,157.30" fill="none" stroke="#5a5ab0" stroke-width="0.7"/>
<path d="M353.00,167.40 L353.77,167.13 L354.79,166.76 L356.00,166.31 L357.36,165.83 L358.79,165.32 L360.24,164.83 L361.67,164.38 L363.00,164.00 L364.28,163.66 L365.57,163.32 L366.87,163.00 L368.17,162.71 L369.47,162.45 L370.76,162.24 L372.04,162.08 L373.30,162.00 L374.55,162.00 L375.78,162.06 L377.01,162.18 L378.23,162.36 L379.44,162.56 L380.64,162.80 L381.83,163.05 L383.00,163.30 L384.17,163.57 L385.33,163.87 L386.49,164.20 L387.63,164.55 L388.76,164.91 L389.86,165.28 L390.95,165.64 L392.00,166.00 L393.07,166.37 L394.18,166.78 L395.29,167.20 L396.36,167.62 L397.37,168.02 L398.27,168.37 L399.02,168.67 L399.60,168.90" fill="none" stroke="#50a050" stroke-width="0.7"/>
<line x1="373.9" y1="133" x2="373.9" y2="169.5" stroke="#50a050" stroke-width="0.5" stroke-dasharray="1.2,1"/>
<line x1="379.4" y1="133" x2="379.4" y2="169.5" stroke="#4040b0" stroke-width="0.5" stroke-dasharray="1.2,1"/>
<polygon points="376.3,146 378.8,149.6 376.3,153.2 373.8,149.6" fill="#f07020"/><rect x="374.4" y="147.7" width="3.8" height="3.8" fill="#f07020"/>
<text x="357.1" y="175" font-size="3.8" text-anchor="middle" font-weight="normal" fill="#333" >1.80</text>
<text x="380.4" y="175" font-size="3.8" text-anchor="middle" font-weight="normal" fill="#333" >1.85</text>
<text x="399.6" y="175" font-size="3.8" text-anchor="middle" font-weight="normal" fill="#333" >1.90</text>
<path d="M304.9,22.50 L306.7,22.50 M304.9,30.00 L306.7,30.00 M304.9,37.50 L306.7,37.50 M304.9,45.00 L306.7,45.00 M304.9,52.50 L306.7,52.50 M304.9,60.00 L306.7,60.00 M304.9,67.50 L306.7,67.50 M304.9,75.00 L306.7,75.00 M304.9,82.50 L306.7,82.50 M304.9,90.00 L306.7,90.00 M304.9,97.50 L306.7,97.50 M313.55,97.5 L313.55,95.7 M331.60,97.5 L331.60,95.7 M349.65,97.5 L349.65,95.7 M367.70,97.5 L367.70,95.7 M385.75,97.5 L385.75,95.7 M31,129.30 L32.8,129.30 M128.5,129.30 L126.7,129.30 M31,137.10 L32.8,137.10 M128.5,137.10 L126.7,137.10 M31,144.90 L32.8,144.90 M128.5,144.90 L126.7,144.90 M31,152.70 L32.8,152.70 M128.5,152.70 L126.7,152.70 M31,160.50 L32.8,160.50 M128.5,160.50 L126.7,160.50 M31,168.30 L32.8,168.30 M128.5,168.30 L126.7,168.30 M31,176.10 L32.8,176.10 M128.5,176.10 L126.7,176.10 M31,183.90 L32.8,183.90 M128.5,183.90 L126.7,183.90 M31,191.70 L32.8,191.70 M128.5,191.70 L126.7,191.70 M31,199.50 L32.8,199.50 M128.5,199.50 L126.7,199.50 M31,207.30 L32.8,207.30 M128.5,207.30 L126.7,207.30 M35.90,207.3 L35.90,205.5 M50.70,207.3 L50.70,205.5 M65.50,207.3 L65.50,205.5 M80.20,207.3 L80.20,205.5 M95.00,207.3 L95.00,205.5 M109.70,207.3 L109.70,205.5 M124.50,207.3 L124.50,205.5 M186.40,208.4 L186.40,206.6 M198.40,208.4 L198.40,206.6 M210.40,208.4 L210.40,206.6 M222.40,208.4 L222.40,206.6 M234.40,208.4 L234.40,206.6 M246.40,208.4 L246.40,206.6 M258.40,208.4 L258.40,206.6 M270.40,208.4 L270.40,206.6 M325.20,208.4 L325.20,206.6 M338.40,208.4 L338.40,206.6 M351.60,208.4 L351.60,206.6 M364.80,208.4 L364.80,206.6 M378.00,208.4 L378.00,206.6 M391.20,208.4 L391.20,206.6 M404.40,208.4 L404.40,206.6 M306.2,129.80 L308,129.80 M306.2,140.90 L308,140.90 M306.2,152.00 L308,152.00 M306.2,163.10 L308,163.10 M306.2,174.20 L308,174.20 M306.2,185.30 L308,185.30 M306.2,196.40 L308,196.40" stroke="#aaa" stroke-width="0.5" fill="none"/></svg>
</body></html>
